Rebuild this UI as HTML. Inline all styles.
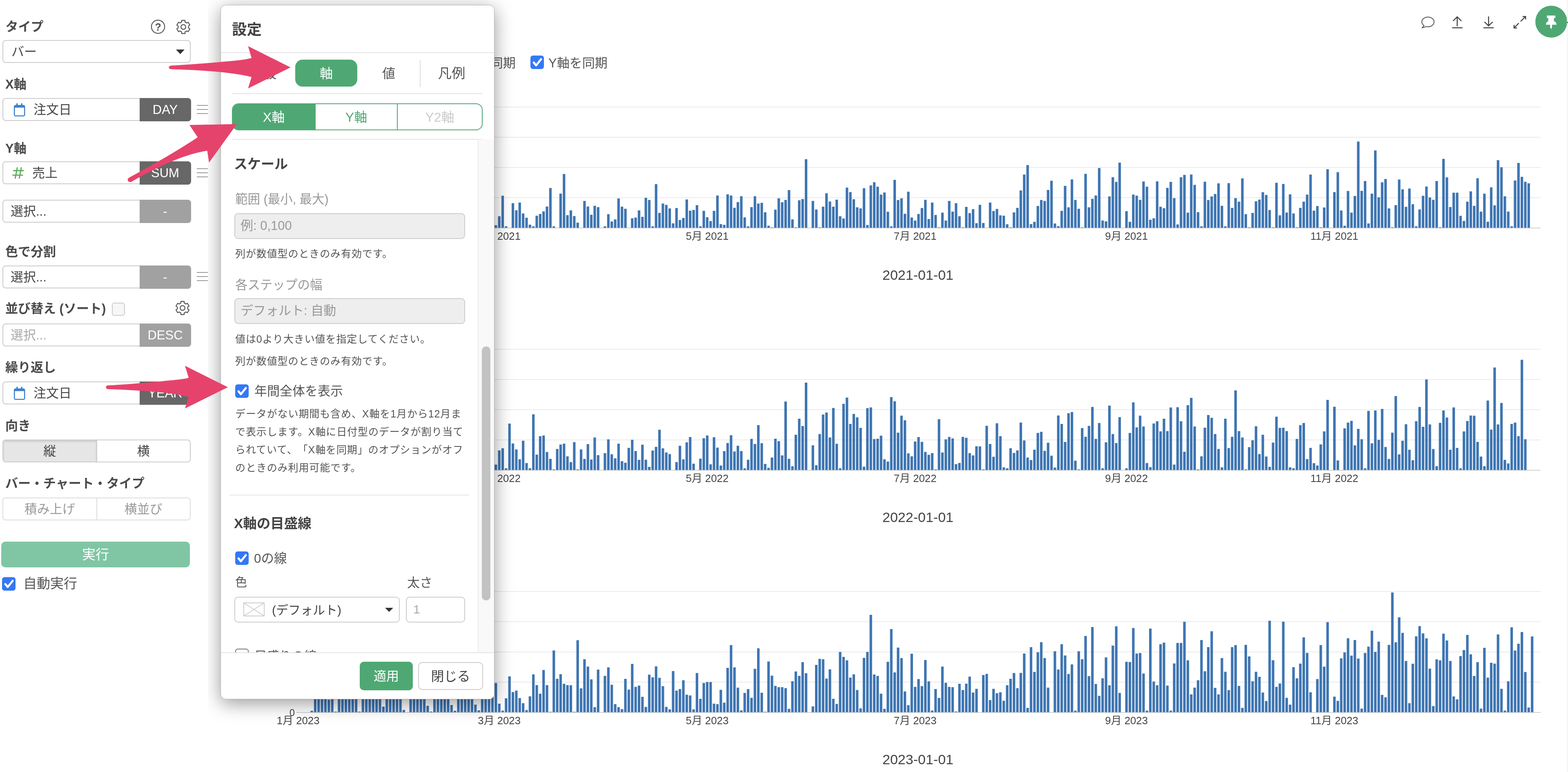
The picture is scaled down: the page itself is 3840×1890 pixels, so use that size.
<!DOCTYPE html>
<html lang="ja"><head><meta charset="utf-8">
<style>
*{box-sizing:border-box;margin:0;padding:0}
html,body{width:3840px;height:1890px;overflow:hidden;background:#fff}
body{text-spacing-trim:space-all;position:relative;font-family:"Liberation Sans","Noto Sans CJK JP",sans-serif;color:#555}
.a{position:absolute}
.charts{position:absolute;left:0;top:0}
.lbl{position:absolute;left:13px;font-weight:bold;font-size:31px;line-height:40px;color:#4a4a4a;white-space:nowrap}
.fld{position:absolute;left:6px;width:461px;height:56px;border:2.5px solid #ccc;border-radius:8px;background:#fff;font-size:31px;line-height:54px;color:#444;white-space:nowrap}
.fld .t{position:absolute;left:74px;top:0}
.fld .ph{position:absolute;left:18px;top:0}
.badge{position:absolute;right:-2.5px;top:-2.5px;bottom:-2.5px;width:126px;background:#676767;color:#fff;border-radius:0 8px 8px 0;text-align:center;line-height:57px;font-size:31px}
.badge.lt{background:#a1a1a1}
.ham{position:absolute;left:482px;width:27px;height:22px;border-top:2px solid #999;border-bottom:2px solid #999}
.ham:after{content:"";position:absolute;left:0;right:0;top:8px;height:2px;background:#999}
.seg{position:absolute;left:6px;width:461px;height:56px;border:2.5px solid #ccc;border-radius:8px;display:flex;font-size:31px;line-height:53px;overflow:hidden}
.seg div{flex:1;text-align:center}
.seg div+div{border-left:2.5px solid #ccc}
.cb{position:absolute;width:33px;height:33px;border-radius:6px;background:#3478f6}
.cb svg{position:absolute;left:0;top:0}
/* modal */
.clip{position:absolute;left:508.5px;top:0;width:3331.5px;height:1890px;overflow:hidden}
.modal{position:absolute;left:31.5px;top:12px;width:671px;height:1700px;background:#fff;border:1.5px solid #b0b0b0;border-radius:13px;box-shadow:0 10px 46px rgba(0,0,0,.4);overflow:hidden}
.mt{position:absolute;font-weight:bold;color:#444;white-space:nowrap}
.mline{position:absolute;height:2px;background:#e5e5e5}
.tab{position:absolute;top:133px;width:152px;height:66px;text-align:center;font-size:32px;line-height:68px;color:#555}
.tab.on{background:#4fa874;color:#fff;border-radius:18px}
.xseg{position:absolute;left:27px;top:240px;width:614px;height:66px;border:2.5px solid #4fa874;border-radius:16px;overflow:hidden;display:flex;font-size:32px;line-height:64px}
.xseg div{text-align:center}
.help{position:absolute;font-size:25px;letter-spacing:0.9px;color:#555;white-space:nowrap;line-height:44px}
.gl{position:absolute;font-size:30.5px;color:#999;white-space:nowrap}
.inp{position:absolute;border:2.5px solid #ccc;border-radius:9px;background:#eee;font-size:31px;color:#999;white-space:nowrap}
.btn{position:absolute;border-radius:10px;text-align:center;font-size:31px;white-space:nowrap}
</style></head><body>
<svg class="charts" width="3840" height="1890" viewBox="0 0 3840 1890">
<g fill="#3e75b2">
<rect x="726.0" y="483.0" width="3047.0" height="2" fill="#ebebeb"/>
<rect x="726.0" y="409.0" width="3047.0" height="2" fill="#ebebeb"/>
<rect x="726.0" y="335.0" width="3047.0" height="2" fill="#ebebeb"/>
<rect x="726.0" y="261.0" width="3047.0" height="2" fill="#ebebeb"/>
<rect x="752.12" y="556.1" width="6.2" height="1.9"/>
<rect x="760.47" y="514.1" width="6.2" height="43.9"/>
<rect x="768.81" y="529.7" width="6.2" height="28.3"/>
<rect x="777.16" y="531.3" width="6.2" height="26.7"/>
<rect x="785.51" y="537.8" width="6.2" height="20.2"/>
<rect x="793.86" y="518.9" width="6.2" height="39.1"/>
<rect x="802.21" y="494.8" width="6.2" height="63.2"/>
<rect x="810.55" y="557.0" width="6.2" height="1.0"/>
<rect x="818.90" y="488.8" width="6.2" height="69.2"/>
<rect x="827.25" y="516.0" width="6.2" height="42.0"/>
<rect x="835.60" y="518.2" width="6.2" height="39.8"/>
<rect x="843.95" y="477.5" width="6.2" height="80.5"/>
<rect x="852.29" y="504.5" width="6.2" height="53.5"/>
<rect x="860.64" y="517.7" width="6.2" height="40.3"/>
<rect x="868.99" y="555.6" width="6.2" height="2.4"/>
<rect x="877.34" y="486.6" width="6.2" height="71.4"/>
<rect x="885.68" y="538.4" width="6.2" height="19.6"/>
<rect x="894.03" y="465.0" width="6.2" height="93.0"/>
<rect x="902.38" y="541.2" width="6.2" height="16.8"/>
<rect x="910.73" y="483.0" width="6.2" height="75.0"/>
<rect x="919.08" y="475.4" width="6.2" height="82.6"/>
<rect x="927.42" y="556.9" width="6.2" height="1.1"/>
<rect x="935.77" y="480.0" width="6.2" height="78.0"/>
<rect x="944.12" y="513.7" width="6.2" height="44.3"/>
<rect x="952.47" y="496.7" width="6.2" height="61.3"/>
<rect x="960.82" y="542.3" width="6.2" height="15.7"/>
<rect x="969.16" y="539.3" width="6.2" height="18.7"/>
<rect x="977.51" y="528.5" width="6.2" height="29.5"/>
<rect x="985.86" y="554.1" width="6.2" height="3.9"/>
<rect x="994.21" y="527.3" width="6.2" height="30.7"/>
<rect x="1002.56" y="482.5" width="6.2" height="75.5"/>
<rect x="1010.90" y="468.6" width="6.2" height="89.4"/>
<rect x="1019.25" y="467.6" width="6.2" height="90.4"/>
<rect x="1027.60" y="515.4" width="6.2" height="42.6"/>
<rect x="1035.95" y="514.6" width="6.2" height="43.4"/>
<rect x="1044.30" y="555.4" width="6.2" height="2.6"/>
<rect x="1052.64" y="481.0" width="6.2" height="77.0"/>
<rect x="1060.99" y="534.4" width="6.2" height="23.6"/>
<rect x="1069.34" y="483.1" width="6.2" height="74.9"/>
<rect x="1077.69" y="479.2" width="6.2" height="78.8"/>
<rect x="1086.04" y="474.2" width="6.2" height="83.8"/>
<rect x="1094.38" y="540.1" width="6.2" height="17.9"/>
<rect x="1102.73" y="554.2" width="6.2" height="3.8"/>
<rect x="1111.08" y="535.7" width="6.2" height="22.3"/>
<rect x="1119.43" y="515.7" width="6.2" height="42.3"/>
<rect x="1127.78" y="494.1" width="6.2" height="63.9"/>
<rect x="1136.12" y="469.6" width="6.2" height="88.4"/>
<rect x="1144.47" y="515.8" width="6.2" height="42.2"/>
<rect x="1152.82" y="469.1" width="6.2" height="88.9"/>
<rect x="1161.17" y="555.4" width="6.2" height="2.6"/>
<rect x="1169.52" y="518.0" width="6.2" height="40.0"/>
<rect x="1177.86" y="517.7" width="6.2" height="40.3"/>
<rect x="1186.21" y="528.8" width="6.2" height="29.2"/>
<rect x="1194.56" y="536.7" width="6.2" height="21.3"/>
<rect x="1202.91" y="531.1" width="6.2" height="26.9"/>
<rect x="1211.25" y="551.4" width="6.2" height="6.6"/>
<rect x="1219.60" y="529.4" width="6.2" height="28.6"/>
<rect x="1227.95" y="479.1" width="6.2" height="78.9"/>
<rect x="1236.30" y="554.1" width="6.2" height="3.9"/>
<rect x="1252.99" y="497.4" width="6.2" height="60.6"/>
<rect x="1261.34" y="514.8" width="6.2" height="43.2"/>
<rect x="1269.69" y="495.9" width="6.2" height="62.1"/>
<rect x="1278.04" y="522.6" width="6.2" height="35.4"/>
<rect x="1286.39" y="533.1" width="6.2" height="24.9"/>
<rect x="1294.73" y="550.1" width="6.2" height="7.9"/>
<rect x="1303.08" y="554.1" width="6.2" height="3.9"/>
<rect x="1311.43" y="528.1" width="6.2" height="29.9"/>
<rect x="1319.78" y="523.9" width="6.2" height="34.1"/>
<rect x="1328.13" y="517.5" width="6.2" height="40.5"/>
<rect x="1336.47" y="505.6" width="6.2" height="52.4"/>
<rect x="1344.82" y="460.3" width="6.2" height="97.7"/>
<rect x="1353.17" y="554.1" width="6.2" height="3.9"/>
<rect x="1369.87" y="474.0" width="6.2" height="84.0"/>
<rect x="1378.21" y="426.0" width="6.2" height="132.0"/>
<rect x="1386.56" y="526.7" width="6.2" height="31.3"/>
<rect x="1394.91" y="515.1" width="6.2" height="42.9"/>
<rect x="1403.26" y="529.0" width="6.2" height="29.0"/>
<rect x="1411.61" y="545.1" width="6.2" height="12.9"/>
<rect x="1428.30" y="491.9" width="6.2" height="66.1"/>
<rect x="1436.65" y="505.6" width="6.2" height="52.4"/>
<rect x="1445.00" y="525.8" width="6.2" height="32.2"/>
<rect x="1453.35" y="503.8" width="6.2" height="54.2"/>
<rect x="1461.69" y="507.1" width="6.2" height="50.9"/>
<rect x="1478.39" y="554.1" width="6.2" height="3.9"/>
<rect x="1486.74" y="524.3" width="6.2" height="33.7"/>
<rect x="1495.08" y="542.2" width="6.2" height="15.8"/>
<rect x="1503.43" y="537.1" width="6.2" height="20.9"/>
<rect x="1511.78" y="485.9" width="6.2" height="72.1"/>
<rect x="1520.13" y="506.0" width="6.2" height="52.0"/>
<rect x="1528.48" y="511.1" width="6.2" height="46.9"/>
<rect x="1545.17" y="534.5" width="6.2" height="23.5"/>
<rect x="1553.52" y="532.7" width="6.2" height="25.3"/>
<rect x="1561.87" y="515.1" width="6.2" height="42.9"/>
<rect x="1570.22" y="530.9" width="6.2" height="27.1"/>
<rect x="1578.56" y="484.2" width="6.2" height="73.8"/>
<rect x="1586.91" y="489.5" width="6.2" height="68.5"/>
<rect x="1595.26" y="554.1" width="6.2" height="3.9"/>
<rect x="1603.61" y="450.7" width="6.2" height="107.3"/>
<rect x="1611.96" y="521.2" width="6.2" height="36.8"/>
<rect x="1620.30" y="498.3" width="6.2" height="59.7"/>
<rect x="1628.65" y="501.6" width="6.2" height="56.4"/>
<rect x="1637.00" y="510.2" width="6.2" height="47.8"/>
<rect x="1645.35" y="546.8" width="6.2" height="11.2"/>
<rect x="1653.70" y="509.3" width="6.2" height="48.7"/>
<rect x="1662.04" y="538.6" width="6.2" height="19.4"/>
<rect x="1670.39" y="533.6" width="6.2" height="24.4"/>
<rect x="1678.74" y="488.3" width="6.2" height="69.7"/>
<rect x="1687.09" y="515.7" width="6.2" height="42.3"/>
<rect x="1695.44" y="513.9" width="6.2" height="44.1"/>
<rect x="1703.78" y="502.3" width="6.2" height="55.7"/>
<rect x="1712.13" y="554.1" width="6.2" height="3.9"/>
<rect x="1720.48" y="516.2" width="6.2" height="41.8"/>
<rect x="1728.83" y="531.8" width="6.2" height="26.2"/>
<rect x="1737.18" y="541.3" width="6.2" height="16.7"/>
<rect x="1745.52" y="516.2" width="6.2" height="41.8"/>
<rect x="1753.87" y="478.6" width="6.2" height="79.4"/>
<rect x="1762.22" y="548.6" width="6.2" height="9.4"/>
<rect x="1770.57" y="550.5" width="6.2" height="7.5"/>
<rect x="1778.92" y="475.8" width="6.2" height="82.2"/>
<rect x="1787.26" y="478.6" width="6.2" height="79.4"/>
<rect x="1795.61" y="508.7" width="6.2" height="49.3"/>
<rect x="1803.96" y="494.7" width="6.2" height="63.3"/>
<rect x="1812.31" y="480.4" width="6.2" height="77.6"/>
<rect x="1820.65" y="532.2" width="6.2" height="25.8"/>
<rect x="1829.00" y="554.1" width="6.2" height="3.9"/>
<rect x="1837.35" y="507.1" width="6.2" height="50.9"/>
<rect x="1845.70" y="480.4" width="6.2" height="77.6"/>
<rect x="1854.05" y="498.3" width="6.2" height="59.7"/>
<rect x="1862.39" y="496.5" width="6.2" height="61.5"/>
<rect x="1870.74" y="519.7" width="6.2" height="38.3"/>
<rect x="1879.09" y="552.6" width="6.2" height="5.4"/>
<rect x="1887.44" y="556.5" width="6.2" height="1.5"/>
<rect x="1895.79" y="513.3" width="6.2" height="44.7"/>
<rect x="1904.13" y="485.5" width="6.2" height="72.5"/>
<rect x="1912.48" y="495.2" width="6.2" height="62.8"/>
<rect x="1920.83" y="489.5" width="6.2" height="68.5"/>
<rect x="1929.18" y="465.4" width="6.2" height="92.6"/>
<rect x="1937.53" y="537.1" width="6.2" height="20.9"/>
<rect x="1945.87" y="556.5" width="6.2" height="1.5"/>
<rect x="1954.22" y="490.4" width="6.2" height="67.6"/>
<rect x="1962.57" y="487.3" width="6.2" height="70.7"/>
<rect x="1970.92" y="389.8" width="6.2" height="168.2"/>
<rect x="1987.61" y="491.9" width="6.2" height="66.1"/>
<rect x="1995.96" y="512.9" width="6.2" height="45.1"/>
<rect x="2004.31" y="556.5" width="6.2" height="1.5"/>
<rect x="2012.66" y="506.0" width="6.2" height="52.0"/>
<rect x="2021.01" y="473.2" width="6.2" height="84.8"/>
<rect x="2029.35" y="493.4" width="6.2" height="64.6"/>
<rect x="2037.70" y="506.0" width="6.2" height="52.0"/>
<rect x="2046.05" y="488.8" width="6.2" height="69.2"/>
<rect x="2054.40" y="529.4" width="6.2" height="28.6"/>
<rect x="2062.75" y="534.9" width="6.2" height="23.1"/>
<rect x="2071.09" y="459.3" width="6.2" height="98.7"/>
<rect x="2079.44" y="470.3" width="6.2" height="87.7"/>
<rect x="2087.79" y="487.7" width="6.2" height="70.3"/>
<rect x="2096.14" y="507.5" width="6.2" height="50.5"/>
<rect x="2104.48" y="510.2" width="6.2" height="47.8"/>
<rect x="2112.83" y="460.8" width="6.2" height="97.2"/>
<rect x="2121.18" y="550.8" width="6.2" height="7.2"/>
<rect x="2129.53" y="453.9" width="6.2" height="104.1"/>
<rect x="2137.88" y="446.2" width="6.2" height="111.8"/>
<rect x="2146.22" y="457.1" width="6.2" height="100.9"/>
<rect x="2154.57" y="476.4" width="6.2" height="81.6"/>
<rect x="2162.92" y="471.2" width="6.2" height="86.8"/>
<rect x="2171.27" y="518.4" width="6.2" height="39.6"/>
<rect x="2179.62" y="554.1" width="6.2" height="3.9"/>
<rect x="2187.96" y="440.3" width="6.2" height="117.7"/>
<rect x="2196.31" y="489.7" width="6.2" height="68.3"/>
<rect x="2204.66" y="485.5" width="6.2" height="72.5"/>
<rect x="2213.01" y="523.4" width="6.2" height="34.6"/>
<rect x="2221.36" y="469.4" width="6.2" height="88.6"/>
<rect x="2229.70" y="532.5" width="6.2" height="25.5"/>
<rect x="2238.05" y="540.0" width="6.2" height="18.0"/>
<rect x="2246.40" y="523.9" width="6.2" height="34.1"/>
<rect x="2254.75" y="509.3" width="6.2" height="48.7"/>
<rect x="2263.10" y="489.2" width="6.2" height="68.8"/>
<rect x="2271.44" y="536.2" width="6.2" height="21.8"/>
<rect x="2279.79" y="495.9" width="6.2" height="62.1"/>
<rect x="2288.14" y="526.3" width="6.2" height="31.7"/>
<rect x="2296.49" y="556.5" width="6.2" height="1.5"/>
<rect x="2304.84" y="520.6" width="6.2" height="37.4"/>
<rect x="2313.18" y="540.0" width="6.2" height="18.0"/>
<rect x="2321.53" y="491.9" width="6.2" height="66.1"/>
<rect x="2329.88" y="518.1" width="6.2" height="39.9"/>
<rect x="2338.23" y="497.4" width="6.2" height="60.6"/>
<rect x="2346.58" y="529.4" width="6.2" height="28.6"/>
<rect x="2354.92" y="556.5" width="6.2" height="1.5"/>
<rect x="2363.27" y="506.5" width="6.2" height="51.5"/>
<rect x="2371.62" y="521.7" width="6.2" height="36.3"/>
<rect x="2379.97" y="512.0" width="6.2" height="46.0"/>
<rect x="2388.32" y="546.4" width="6.2" height="11.6"/>
<rect x="2396.66" y="501.4" width="6.2" height="56.6"/>
<rect x="2405.01" y="545.9" width="6.2" height="12.1"/>
<rect x="2421.71" y="495.9" width="6.2" height="62.1"/>
<rect x="2430.05" y="516.6" width="6.2" height="41.4"/>
<rect x="2438.40" y="511.5" width="6.2" height="46.5"/>
<rect x="2446.75" y="527.2" width="6.2" height="30.8"/>
<rect x="2455.10" y="528.0" width="6.2" height="30.0"/>
<rect x="2463.45" y="549.0" width="6.2" height="9.0"/>
<rect x="2471.79" y="556.5" width="6.2" height="1.5"/>
<rect x="2480.14" y="519.9" width="6.2" height="38.1"/>
<rect x="2488.49" y="508.9" width="6.2" height="49.1"/>
<rect x="2496.84" y="466.3" width="6.2" height="91.7"/>
<rect x="2505.19" y="427.3" width="6.2" height="130.7"/>
<rect x="2513.53" y="404.1" width="6.2" height="153.9"/>
<rect x="2521.88" y="548.6" width="6.2" height="9.4"/>
<rect x="2530.23" y="543.1" width="6.2" height="14.9"/>
<rect x="2538.58" y="504.2" width="6.2" height="53.8"/>
<rect x="2546.93" y="489.5" width="6.2" height="68.5"/>
<rect x="2555.27" y="491.9" width="6.2" height="66.1"/>
<rect x="2563.62" y="465.0" width="6.2" height="93.0"/>
<rect x="2571.97" y="442.5" width="6.2" height="115.5"/>
<rect x="2580.32" y="547.2" width="6.2" height="10.8"/>
<rect x="2588.67" y="553.7" width="6.2" height="4.3"/>
<rect x="2597.01" y="516.2" width="6.2" height="41.8"/>
<rect x="2605.36" y="455.0" width="6.2" height="103.0"/>
<rect x="2613.71" y="507.5" width="6.2" height="50.5"/>
<rect x="2622.06" y="439.2" width="6.2" height="118.8"/>
<rect x="2630.41" y="489.5" width="6.2" height="68.5"/>
<rect x="2638.75" y="511.1" width="6.2" height="46.9"/>
<rect x="2647.10" y="556.5" width="6.2" height="1.5"/>
<rect x="2655.45" y="425.5" width="6.2" height="132.5"/>
<rect x="2663.80" y="507.5" width="6.2" height="50.5"/>
<rect x="2672.15" y="486.8" width="6.2" height="71.2"/>
<rect x="2680.49" y="478.6" width="6.2" height="79.4"/>
<rect x="2688.84" y="411.4" width="6.2" height="146.6"/>
<rect x="2697.19" y="539.8" width="6.2" height="18.2"/>
<rect x="2705.54" y="541.9" width="6.2" height="16.1"/>
<rect x="2713.88" y="480.9" width="6.2" height="77.1"/>
<rect x="2722.23" y="433.9" width="6.2" height="124.1"/>
<rect x="2730.58" y="445.3" width="6.2" height="112.7"/>
<rect x="2738.93" y="398.2" width="6.2" height="159.8"/>
<rect x="2755.62" y="517.0" width="6.2" height="41.0"/>
<rect x="2763.97" y="543.1" width="6.2" height="14.9"/>
<rect x="2772.32" y="476.4" width="6.2" height="81.6"/>
<rect x="2780.67" y="479.1" width="6.2" height="78.9"/>
<rect x="2789.02" y="489.2" width="6.2" height="68.8"/>
<rect x="2797.36" y="444.3" width="6.2" height="113.7"/>
<rect x="2805.71" y="457.1" width="6.2" height="100.9"/>
<rect x="2814.06" y="538.0" width="6.2" height="20.0"/>
<rect x="2822.41" y="534.4" width="6.2" height="23.6"/>
<rect x="2830.76" y="444.0" width="6.2" height="114.0"/>
<rect x="2839.10" y="506.2" width="6.2" height="51.8"/>
<rect x="2847.45" y="509.7" width="6.2" height="48.3"/>
<rect x="2855.80" y="459.9" width="6.2" height="98.1"/>
<rect x="2864.15" y="445.3" width="6.2" height="112.7"/>
<rect x="2872.50" y="485.1" width="6.2" height="72.9"/>
<rect x="2880.84" y="549.5" width="6.2" height="8.5"/>
<rect x="2889.19" y="433.9" width="6.2" height="124.1"/>
<rect x="2897.54" y="428.2" width="6.2" height="129.8"/>
<rect x="2905.89" y="520.6" width="6.2" height="37.4"/>
<rect x="2914.24" y="427.3" width="6.2" height="130.7"/>
<rect x="2922.58" y="452.6" width="6.2" height="105.4"/>
<rect x="2930.93" y="519.4" width="6.2" height="38.6"/>
<rect x="2939.28" y="554.1" width="6.2" height="3.9"/>
<rect x="2947.63" y="444.9" width="6.2" height="113.1"/>
<rect x="2955.98" y="489.7" width="6.2" height="68.3"/>
<rect x="2964.32" y="480.9" width="6.2" height="77.1"/>
<rect x="2972.67" y="474.9" width="6.2" height="83.1"/>
<rect x="2981.02" y="448.9" width="6.2" height="109.1"/>
<rect x="2989.37" y="503.8" width="6.2" height="54.2"/>
<rect x="2997.72" y="554.1" width="6.2" height="3.9"/>
<rect x="3006.06" y="448.4" width="6.2" height="109.6"/>
<rect x="3014.41" y="508.9" width="6.2" height="49.1"/>
<rect x="3022.76" y="485.1" width="6.2" height="72.9"/>
<rect x="3031.11" y="493.7" width="6.2" height="64.3"/>
<rect x="3039.45" y="436.7" width="6.2" height="121.3"/>
<rect x="3047.80" y="524.3" width="6.2" height="33.7"/>
<rect x="3056.15" y="556.5" width="6.2" height="1.5"/>
<rect x="3064.50" y="521.2" width="6.2" height="36.8"/>
<rect x="3072.85" y="492.8" width="6.2" height="65.2"/>
<rect x="3081.19" y="488.6" width="6.2" height="69.4"/>
<rect x="3089.54" y="470.5" width="6.2" height="87.5"/>
<rect x="3097.89" y="477.3" width="6.2" height="80.7"/>
<rect x="3106.24" y="514.2" width="6.2" height="43.8"/>
<rect x="3114.59" y="556.5" width="6.2" height="1.5"/>
<rect x="3122.93" y="447.5" width="6.2" height="110.5"/>
<rect x="3131.28" y="527.2" width="6.2" height="30.8"/>
<rect x="3139.63" y="450.4" width="6.2" height="107.6"/>
<rect x="3147.98" y="520.3" width="6.2" height="37.7"/>
<rect x="3156.33" y="475.8" width="6.2" height="82.2"/>
<rect x="3164.67" y="522.6" width="6.2" height="35.4"/>
<rect x="3173.02" y="556.5" width="6.2" height="1.5"/>
<rect x="3181.37" y="508.9" width="6.2" height="49.1"/>
<rect x="3189.72" y="493.7" width="6.2" height="64.3"/>
<rect x="3198.07" y="476.4" width="6.2" height="81.6"/>
<rect x="3206.41" y="427.3" width="6.2" height="130.7"/>
<rect x="3214.76" y="515.7" width="6.2" height="42.3"/>
<rect x="3223.11" y="504.4" width="6.2" height="53.6"/>
<rect x="3231.46" y="556.5" width="6.2" height="1.5"/>
<rect x="3239.81" y="508.0" width="6.2" height="50.0"/>
<rect x="3248.15" y="414.2" width="6.2" height="143.8"/>
<rect x="3264.85" y="470.3" width="6.2" height="87.7"/>
<rect x="3273.20" y="421.5" width="6.2" height="136.5"/>
<rect x="3281.55" y="515.3" width="6.2" height="42.7"/>
<rect x="3289.89" y="552.6" width="6.2" height="5.4"/>
<rect x="3298.24" y="467.5" width="6.2" height="90.5"/>
<rect x="3306.59" y="520.5" width="6.2" height="37.5"/>
<rect x="3314.94" y="479.7" width="6.2" height="78.3"/>
<rect x="3323.28" y="346.5" width="6.2" height="211.5"/>
<rect x="3331.63" y="467.2" width="6.2" height="90.8"/>
<rect x="3339.98" y="443.2" width="6.2" height="114.8"/>
<rect x="3348.33" y="547.1" width="6.2" height="10.9"/>
<rect x="3356.68" y="474.1" width="6.2" height="83.9"/>
<rect x="3365.02" y="368.4" width="6.2" height="189.6"/>
<rect x="3373.37" y="483.1" width="6.2" height="74.9"/>
<rect x="3381.72" y="446.4" width="6.2" height="111.6"/>
<rect x="3390.07" y="438.2" width="6.2" height="119.8"/>
<rect x="3398.42" y="510.2" width="6.2" height="47.8"/>
<rect x="3406.76" y="556.4" width="6.2" height="1.6"/>
<rect x="3415.11" y="502.2" width="6.2" height="55.8"/>
<rect x="3423.46" y="439.5" width="6.2" height="118.5"/>
<rect x="3431.81" y="463.4" width="6.2" height="94.6"/>
<rect x="3440.16" y="506.3" width="6.2" height="51.7"/>
<rect x="3448.50" y="461.5" width="6.2" height="96.5"/>
<rect x="3456.85" y="499.9" width="6.2" height="58.1"/>
<rect x="3465.20" y="554.0" width="6.2" height="4.0"/>
<rect x="3473.55" y="512.8" width="6.2" height="45.2"/>
<rect x="3481.90" y="479.3" width="6.2" height="78.7"/>
<rect x="3490.24" y="456.7" width="6.2" height="101.3"/>
<rect x="3498.59" y="483.4" width="6.2" height="74.6"/>
<rect x="3506.94" y="489.1" width="6.2" height="68.9"/>
<rect x="3515.29" y="443.2" width="6.2" height="114.8"/>
<rect x="3523.64" y="556.4" width="6.2" height="1.6"/>
<rect x="3531.98" y="388.9" width="6.2" height="169.1"/>
<rect x="3540.33" y="434.2" width="6.2" height="123.8"/>
<rect x="3548.68" y="506.8" width="6.2" height="51.2"/>
<rect x="3557.03" y="471.7" width="6.2" height="86.3"/>
<rect x="3565.38" y="471.7" width="6.2" height="86.3"/>
<rect x="3573.72" y="528.4" width="6.2" height="29.6"/>
<rect x="3582.07" y="540.9" width="6.2" height="17.1"/>
<rect x="3590.42" y="493.7" width="6.2" height="64.3"/>
<rect x="3598.77" y="468.5" width="6.2" height="89.5"/>
<rect x="3607.12" y="504.0" width="6.2" height="54.0"/>
<rect x="3615.46" y="436.3" width="6.2" height="121.7"/>
<rect x="3623.81" y="518.1" width="6.2" height="39.9"/>
<rect x="3632.16" y="474.1" width="6.2" height="83.9"/>
<rect x="3640.51" y="542.8" width="6.2" height="15.2"/>
<rect x="3648.85" y="458.7" width="6.2" height="99.3"/>
<rect x="3657.20" y="502.7" width="6.2" height="55.3"/>
<rect x="3665.55" y="392.1" width="6.2" height="165.9"/>
<rect x="3673.90" y="409.5" width="6.2" height="148.5"/>
<rect x="3682.25" y="480.6" width="6.2" height="77.4"/>
<rect x="3690.59" y="518.1" width="6.2" height="39.9"/>
<rect x="3698.94" y="554.0" width="6.2" height="4.0"/>
<rect x="3707.29" y="441.9" width="6.2" height="116.1"/>
<rect x="3715.64" y="398.9" width="6.2" height="159.1"/>
<rect x="3723.99" y="432.9" width="6.2" height="125.1"/>
<rect x="3732.33" y="445.1" width="6.2" height="112.9"/>
<rect x="3740.68" y="448.8" width="6.2" height="109.2"/>
<rect x="726.0" y="557.5" width="3047.0" height="1.5" fill="#c4c4c4"/>
<rect x="726.0" y="1076.0" width="3047.0" height="2" fill="#ebebeb"/>
<rect x="726.0" y="1002.0" width="3047.0" height="2" fill="#ebebeb"/>
<rect x="726.0" y="928.0" width="3047.0" height="2" fill="#ebebeb"/>
<rect x="726.0" y="854.0" width="3047.0" height="2" fill="#ebebeb"/>
<rect x="752.12" y="1147.9" width="6.2" height="3.1"/>
<rect x="760.47" y="1056.3" width="6.2" height="94.7"/>
<rect x="768.81" y="1123.1" width="6.2" height="27.9"/>
<rect x="777.16" y="1132.1" width="6.2" height="18.9"/>
<rect x="785.51" y="1057.1" width="6.2" height="93.9"/>
<rect x="793.86" y="1093.3" width="6.2" height="57.7"/>
<rect x="802.21" y="1103.5" width="6.2" height="47.5"/>
<rect x="810.55" y="1149.3" width="6.2" height="1.7"/>
<rect x="818.90" y="1088.5" width="6.2" height="62.5"/>
<rect x="827.25" y="1069.9" width="6.2" height="81.1"/>
<rect x="835.60" y="1099.5" width="6.2" height="51.5"/>
<rect x="843.95" y="1102.3" width="6.2" height="48.7"/>
<rect x="852.29" y="1131.5" width="6.2" height="19.5"/>
<rect x="860.64" y="1062.7" width="6.2" height="88.3"/>
<rect x="868.99" y="1149.9" width="6.2" height="1.1"/>
<rect x="877.34" y="1096.5" width="6.2" height="54.5"/>
<rect x="885.68" y="1068.9" width="6.2" height="82.1"/>
<rect x="894.03" y="1125.6" width="6.2" height="25.4"/>
<rect x="902.38" y="1077.5" width="6.2" height="73.5"/>
<rect x="910.73" y="1060.0" width="6.2" height="91.0"/>
<rect x="919.08" y="1085.6" width="6.2" height="65.4"/>
<rect x="927.42" y="1147.6" width="6.2" height="3.4"/>
<rect x="935.77" y="1127.5" width="6.2" height="23.5"/>
<rect x="944.12" y="1101.2" width="6.2" height="49.8"/>
<rect x="952.47" y="1124.1" width="6.2" height="26.9"/>
<rect x="960.82" y="1068.4" width="6.2" height="82.6"/>
<rect x="969.16" y="1112.4" width="6.2" height="38.6"/>
<rect x="977.51" y="1099.7" width="6.2" height="51.3"/>
<rect x="985.86" y="1147.0" width="6.2" height="4.0"/>
<rect x="994.21" y="1067.8" width="6.2" height="83.2"/>
<rect x="1002.56" y="1057.9" width="6.2" height="93.1"/>
<rect x="1010.90" y="1099.7" width="6.2" height="51.3"/>
<rect x="1019.25" y="1096.9" width="6.2" height="54.1"/>
<rect x="1027.60" y="1077.6" width="6.2" height="73.4"/>
<rect x="1035.95" y="1097.7" width="6.2" height="53.3"/>
<rect x="1044.30" y="1149.1" width="6.2" height="1.9"/>
<rect x="1052.64" y="1103.7" width="6.2" height="47.3"/>
<rect x="1060.99" y="1124.3" width="6.2" height="26.7"/>
<rect x="1069.34" y="1105.8" width="6.2" height="45.2"/>
<rect x="1077.69" y="1056.9" width="6.2" height="94.1"/>
<rect x="1086.04" y="1059.2" width="6.2" height="91.8"/>
<rect x="1094.38" y="1085.8" width="6.2" height="65.2"/>
<rect x="1102.73" y="1148.5" width="6.2" height="2.5"/>
<rect x="1111.08" y="1108.9" width="6.2" height="42.1"/>
<rect x="1119.43" y="1128.9" width="6.2" height="22.1"/>
<rect x="1127.78" y="1114.2" width="6.2" height="36.8"/>
<rect x="1136.12" y="1073.4" width="6.2" height="77.6"/>
<rect x="1144.47" y="1066.6" width="6.2" height="84.4"/>
<rect x="1152.82" y="1107.1" width="6.2" height="43.9"/>
<rect x="1161.17" y="1147.6" width="6.2" height="3.4"/>
<rect x="1169.52" y="1074.0" width="6.2" height="77.0"/>
<rect x="1177.86" y="1080.4" width="6.2" height="70.6"/>
<rect x="1186.21" y="1082.9" width="6.2" height="68.1"/>
<rect x="1194.56" y="1075.2" width="6.2" height="75.8"/>
<rect x="1202.91" y="1106.9" width="6.2" height="44.1"/>
<rect x="1211.25" y="1137.4" width="6.2" height="13.6"/>
<rect x="1219.60" y="1102.6" width="6.2" height="48.4"/>
<rect x="1227.95" y="1097.4" width="6.2" height="53.6"/>
<rect x="1236.30" y="1146.4" width="6.2" height="4.6"/>
<rect x="1244.65" y="1037.0" width="6.2" height="114.0"/>
<rect x="1252.99" y="1085.7" width="6.2" height="65.3"/>
<rect x="1261.34" y="1100.3" width="6.2" height="50.7"/>
<rect x="1269.69" y="1124.4" width="6.2" height="26.6"/>
<rect x="1278.04" y="1079.0" width="6.2" height="72.0"/>
<rect x="1286.39" y="1133.6" width="6.2" height="17.4"/>
<rect x="1294.73" y="1146.4" width="6.2" height="4.6"/>
<rect x="1303.08" y="1014.3" width="6.2" height="136.7"/>
<rect x="1311.43" y="1113.1" width="6.2" height="37.9"/>
<rect x="1319.78" y="1067.8" width="6.2" height="83.2"/>
<rect x="1328.13" y="1066.2" width="6.2" height="84.8"/>
<rect x="1336.47" y="1106.6" width="6.2" height="44.4"/>
<rect x="1344.82" y="1123.3" width="6.2" height="27.7"/>
<rect x="1353.17" y="1149.1" width="6.2" height="1.9"/>
<rect x="1361.52" y="1099.2" width="6.2" height="51.8"/>
<rect x="1369.87" y="1088.4" width="6.2" height="62.6"/>
<rect x="1378.21" y="1086.2" width="6.2" height="64.8"/>
<rect x="1386.56" y="1117.2" width="6.2" height="33.8"/>
<rect x="1394.91" y="1131.3" width="6.2" height="19.7"/>
<rect x="1403.26" y="1082.4" width="6.2" height="68.6"/>
<rect x="1411.61" y="1149.1" width="6.2" height="1.9"/>
<rect x="1419.95" y="1100.3" width="6.2" height="50.7"/>
<rect x="1428.30" y="1123.5" width="6.2" height="27.5"/>
<rect x="1436.65" y="1087.3" width="6.2" height="63.7"/>
<rect x="1445.00" y="1125.1" width="6.2" height="25.9"/>
<rect x="1453.35" y="1071.1" width="6.2" height="79.9"/>
<rect x="1461.69" y="1114.3" width="6.2" height="36.7"/>
<rect x="1478.39" y="1109.3" width="6.2" height="41.7"/>
<rect x="1486.74" y="1075.6" width="6.2" height="75.4"/>
<rect x="1495.08" y="1112.2" width="6.2" height="38.8"/>
<rect x="1503.43" y="1122.1" width="6.2" height="28.9"/>
<rect x="1511.78" y="1086.2" width="6.2" height="64.8"/>
<rect x="1520.13" y="1129.1" width="6.2" height="21.9"/>
<rect x="1528.48" y="1132.9" width="6.2" height="18.1"/>
<rect x="1536.82" y="1096.5" width="6.2" height="54.5"/>
<rect x="1545.17" y="1076.7" width="6.2" height="74.3"/>
<rect x="1553.52" y="1104.2" width="6.2" height="46.8"/>
<rect x="1561.87" y="1125.7" width="6.2" height="25.3"/>
<rect x="1570.22" y="1088.7" width="6.2" height="62.3"/>
<rect x="1578.56" y="1125.5" width="6.2" height="25.5"/>
<rect x="1586.91" y="1143.0" width="6.2" height="8.0"/>
<rect x="1595.26" y="1103.0" width="6.2" height="48.0"/>
<rect x="1603.61" y="1094.0" width="6.2" height="57.0"/>
<rect x="1611.96" y="1052.0" width="6.2" height="99.0"/>
<rect x="1620.30" y="1097.6" width="6.2" height="53.4"/>
<rect x="1628.65" y="1107.8" width="6.2" height="43.2"/>
<rect x="1637.00" y="1111.6" width="6.2" height="39.4"/>
<rect x="1653.70" y="1131.3" width="6.2" height="19.7"/>
<rect x="1662.04" y="1091.3" width="6.2" height="59.7"/>
<rect x="1670.39" y="1124.6" width="6.2" height="26.4"/>
<rect x="1678.74" y="1083.0" width="6.2" height="68.0"/>
<rect x="1687.09" y="1070.0" width="6.2" height="81.0"/>
<rect x="1695.44" y="1135.2" width="6.2" height="15.8"/>
<rect x="1712.13" y="1122.8" width="6.2" height="28.2"/>
<rect x="1720.48" y="1072.9" width="6.2" height="78.1"/>
<rect x="1728.83" y="1066.2" width="6.2" height="84.8"/>
<rect x="1737.18" y="1136.7" width="6.2" height="14.3"/>
<rect x="1745.52" y="1070.4" width="6.2" height="80.6"/>
<rect x="1753.87" y="1095.8" width="6.2" height="55.2"/>
<rect x="1762.22" y="1139.7" width="6.2" height="11.3"/>
<rect x="1770.57" y="1104.4" width="6.2" height="46.6"/>
<rect x="1778.92" y="1084.6" width="6.2" height="66.4"/>
<rect x="1787.26" y="1065.5" width="6.2" height="85.5"/>
<rect x="1795.61" y="1105.3" width="6.2" height="45.7"/>
<rect x="1803.96" y="1091.3" width="6.2" height="59.7"/>
<rect x="1812.31" y="1104.2" width="6.2" height="46.8"/>
<rect x="1820.65" y="1146.4" width="6.2" height="4.6"/>
<rect x="1829.00" y="1125.5" width="6.2" height="25.5"/>
<rect x="1837.35" y="1074.5" width="6.2" height="76.5"/>
<rect x="1845.70" y="1086.9" width="6.2" height="64.1"/>
<rect x="1854.05" y="1040.8" width="6.2" height="110.2"/>
<rect x="1862.39" y="1085.1" width="6.2" height="65.9"/>
<rect x="1870.74" y="1135.8" width="6.2" height="15.2"/>
<rect x="1879.09" y="1145.3" width="6.2" height="5.7"/>
<rect x="1887.44" y="1120.1" width="6.2" height="30.9"/>
<rect x="1895.79" y="1074.0" width="6.2" height="77.0"/>
<rect x="1904.13" y="1080.1" width="6.2" height="70.9"/>
<rect x="1912.48" y="1114.9" width="6.2" height="36.1"/>
<rect x="1920.83" y="983.0" width="6.2" height="168.0"/>
<rect x="1929.18" y="1123.3" width="6.2" height="27.7"/>
<rect x="1937.53" y="1141.5" width="6.2" height="9.5"/>
<rect x="1945.87" y="1064.4" width="6.2" height="86.6"/>
<rect x="1954.22" y="1025.1" width="6.2" height="125.9"/>
<rect x="1962.57" y="1043.0" width="6.2" height="108.0"/>
<rect x="1970.92" y="936.7" width="6.2" height="214.3"/>
<rect x="1987.61" y="1090.2" width="6.2" height="60.8"/>
<rect x="1995.96" y="1139.0" width="6.2" height="12.0"/>
<rect x="2004.31" y="1062.6" width="6.2" height="88.4"/>
<rect x="2012.66" y="1014.9" width="6.2" height="136.1"/>
<rect x="2021.01" y="1010.0" width="6.2" height="141.0"/>
<rect x="2029.35" y="1071.1" width="6.2" height="79.9"/>
<rect x="2037.70" y="998.8" width="6.2" height="152.2"/>
<rect x="2046.05" y="1086.4" width="6.2" height="64.6"/>
<rect x="2054.40" y="1146.4" width="6.2" height="4.6"/>
<rect x="2062.75" y="988.7" width="6.2" height="162.3"/>
<rect x="2071.09" y="973.4" width="6.2" height="177.6"/>
<rect x="2079.44" y="1037.9" width="6.2" height="113.1"/>
<rect x="2087.79" y="1013.4" width="6.2" height="137.6"/>
<rect x="2096.14" y="1021.7" width="6.2" height="129.3"/>
<rect x="2104.48" y="1047.5" width="6.2" height="103.5"/>
<rect x="2112.83" y="1142.6" width="6.2" height="8.4"/>
<rect x="2121.18" y="999.2" width="6.2" height="151.8"/>
<rect x="2129.53" y="997.4" width="6.2" height="153.6"/>
<rect x="2137.88" y="1074.9" width="6.2" height="76.1"/>
<rect x="2146.22" y="1074.0" width="6.2" height="77.0"/>
<rect x="2154.57" y="1066.6" width="6.2" height="84.4"/>
<rect x="2162.92" y="1124.4" width="6.2" height="26.6"/>
<rect x="2171.27" y="1130.0" width="6.2" height="21.0"/>
<rect x="2179.62" y="972.2" width="6.2" height="178.8"/>
<rect x="2187.96" y="982.4" width="6.2" height="168.6"/>
<rect x="2196.31" y="1059.2" width="6.2" height="91.8"/>
<rect x="2204.66" y="1017.6" width="6.2" height="133.4"/>
<rect x="2213.01" y="1028.9" width="6.2" height="122.1"/>
<rect x="2221.36" y="1109.8" width="6.2" height="41.2"/>
<rect x="2229.70" y="1117.2" width="6.2" height="33.8"/>
<rect x="2238.05" y="1080.8" width="6.2" height="70.2"/>
<rect x="2246.40" y="1070.0" width="6.2" height="81.0"/>
<rect x="2254.75" y="1081.7" width="6.2" height="69.3"/>
<rect x="2263.10" y="1106.4" width="6.2" height="44.6"/>
<rect x="2271.44" y="1113.4" width="6.2" height="37.6"/>
<rect x="2279.79" y="1109.3" width="6.2" height="41.7"/>
<rect x="2288.14" y="1149.1" width="6.2" height="1.9"/>
<rect x="2296.49" y="1026.2" width="6.2" height="124.8"/>
<rect x="2304.84" y="1107.8" width="6.2" height="43.2"/>
<rect x="2313.18" y="1075.6" width="6.2" height="75.4"/>
<rect x="2321.53" y="1069.6" width="6.2" height="81.4"/>
<rect x="2329.88" y="1073.4" width="6.2" height="77.6"/>
<rect x="2338.23" y="1136.3" width="6.2" height="14.7"/>
<rect x="2346.58" y="1133.4" width="6.2" height="17.6"/>
<rect x="2354.92" y="1069.6" width="6.2" height="81.4"/>
<rect x="2363.27" y="1071.8" width="6.2" height="79.2"/>
<rect x="2371.62" y="1109.3" width="6.2" height="41.7"/>
<rect x="2379.97" y="1114.9" width="6.2" height="36.1"/>
<rect x="2388.32" y="1092.5" width="6.2" height="58.5"/>
<rect x="2396.66" y="1092.9" width="6.2" height="58.1"/>
<rect x="2405.01" y="1149.1" width="6.2" height="1.9"/>
<rect x="2413.36" y="1042.4" width="6.2" height="108.6"/>
<rect x="2421.71" y="1086.9" width="6.2" height="64.1"/>
<rect x="2430.05" y="1118.3" width="6.2" height="32.7"/>
<rect x="2438.40" y="1036.3" width="6.2" height="114.7"/>
<rect x="2446.75" y="1067.8" width="6.2" height="83.2"/>
<rect x="2455.10" y="1144.2" width="6.2" height="6.8"/>
<rect x="2463.45" y="1146.4" width="6.2" height="4.6"/>
<rect x="2471.79" y="1097.4" width="6.2" height="53.6"/>
<rect x="2480.14" y="1108.9" width="6.2" height="42.1"/>
<rect x="2488.49" y="1102.6" width="6.2" height="48.4"/>
<rect x="2496.84" y="1034.5" width="6.2" height="116.5"/>
<rect x="2505.19" y="1078.3" width="6.2" height="72.7"/>
<rect x="2513.53" y="1120.1" width="6.2" height="30.9"/>
<rect x="2521.88" y="1126.2" width="6.2" height="24.8"/>
<rect x="2530.23" y="1101.0" width="6.2" height="50.0"/>
<rect x="2538.58" y="1059.9" width="6.2" height="91.1"/>
<rect x="2546.93" y="1057.2" width="6.2" height="93.8"/>
<rect x="2555.27" y="1103.7" width="6.2" height="47.3"/>
<rect x="2563.62" y="1083.9" width="6.2" height="67.1"/>
<rect x="2571.97" y="1115.6" width="6.2" height="35.4"/>
<rect x="2580.32" y="1144.6" width="6.2" height="6.4"/>
<rect x="2588.67" y="1017.2" width="6.2" height="133.8"/>
<rect x="2597.01" y="1037.9" width="6.2" height="113.1"/>
<rect x="2605.36" y="1081.9" width="6.2" height="69.1"/>
<rect x="2613.71" y="1011.6" width="6.2" height="139.4"/>
<rect x="2622.06" y="1008.7" width="6.2" height="142.3"/>
<rect x="2630.41" y="1127.8" width="6.2" height="23.2"/>
<rect x="2638.75" y="1149.1" width="6.2" height="1.9"/>
<rect x="2647.10" y="1048.0" width="6.2" height="103.0"/>
<rect x="2655.45" y="1069.3" width="6.2" height="81.7"/>
<rect x="2663.80" y="1042.6" width="6.2" height="108.4"/>
<rect x="2672.15" y="996.3" width="6.2" height="154.7"/>
<rect x="2680.49" y="1074.5" width="6.2" height="76.5"/>
<rect x="2688.84" y="1035.6" width="6.2" height="115.4"/>
<rect x="2697.19" y="1146.4" width="6.2" height="4.6"/>
<rect x="2705.54" y="1082.8" width="6.2" height="68.2"/>
<rect x="2713.88" y="993.1" width="6.2" height="157.9"/>
<rect x="2722.23" y="1062.6" width="6.2" height="88.4"/>
<rect x="2730.58" y="1084.6" width="6.2" height="66.4"/>
<rect x="2738.93" y="1021.2" width="6.2" height="129.8"/>
<rect x="2755.62" y="1146.4" width="6.2" height="4.6"/>
<rect x="2763.97" y="1059.9" width="6.2" height="91.1"/>
<rect x="2772.32" y="985.1" width="6.2" height="165.9"/>
<rect x="2780.67" y="1046.4" width="6.2" height="104.6"/>
<rect x="2789.02" y="1017.6" width="6.2" height="133.4"/>
<rect x="2797.36" y="1044.2" width="6.2" height="106.8"/>
<rect x="2805.71" y="1133.6" width="6.2" height="17.4"/>
<rect x="2814.06" y="1143.7" width="6.2" height="7.3"/>
<rect x="2822.41" y="1036.7" width="6.2" height="114.3"/>
<rect x="2830.76" y="1031.3" width="6.2" height="119.7"/>
<rect x="2839.10" y="1056.1" width="6.2" height="94.9"/>
<rect x="2847.45" y="1025.1" width="6.2" height="125.9"/>
<rect x="2855.80" y="1055.4" width="6.2" height="95.6"/>
<rect x="2864.15" y="997.6" width="6.2" height="153.4"/>
<rect x="2872.50" y="1137.4" width="6.2" height="13.6"/>
<rect x="2880.84" y="997.0" width="6.2" height="154.0"/>
<rect x="2889.19" y="1031.3" width="6.2" height="119.7"/>
<rect x="2897.54" y="1106.0" width="6.2" height="45.0"/>
<rect x="2905.89" y="992.0" width="6.2" height="159.0"/>
<rect x="2914.24" y="974.0" width="6.2" height="177.0"/>
<rect x="2922.58" y="1044.2" width="6.2" height="106.8"/>
<rect x="2930.93" y="1149.1" width="6.2" height="1.9"/>
<rect x="2939.28" y="1117.2" width="6.2" height="33.8"/>
<rect x="2947.63" y="1047.1" width="6.2" height="103.9"/>
<rect x="2955.98" y="1016.1" width="6.2" height="134.9"/>
<rect x="2964.32" y="1022.8" width="6.2" height="128.2"/>
<rect x="2972.67" y="1062.6" width="6.2" height="88.4"/>
<rect x="2981.02" y="1099.2" width="6.2" height="51.8"/>
<rect x="2989.37" y="1144.2" width="6.2" height="6.8"/>
<rect x="2997.72" y="1025.1" width="6.2" height="125.9"/>
<rect x="3006.06" y="1097.0" width="6.2" height="54.0"/>
<rect x="3014.41" y="1069.3" width="6.2" height="81.7"/>
<rect x="3022.76" y="955.8" width="6.2" height="195.2"/>
<rect x="3031.11" y="1055.4" width="6.2" height="95.6"/>
<rect x="3039.45" y="1071.1" width="6.2" height="79.9"/>
<rect x="3047.80" y="1149.1" width="6.2" height="1.9"/>
<rect x="3056.15" y="1094.7" width="6.2" height="56.3"/>
<rect x="3064.50" y="1077.9" width="6.2" height="73.1"/>
<rect x="3072.85" y="1043.5" width="6.2" height="107.5"/>
<rect x="3081.19" y="1111.6" width="6.2" height="39.4"/>
<rect x="3089.54" y="1064.4" width="6.2" height="86.6"/>
<rect x="3097.89" y="1117.6" width="6.2" height="33.4"/>
<rect x="3106.24" y="1143.0" width="6.2" height="8.0"/>
<rect x="3114.59" y="1083.5" width="6.2" height="67.5"/>
<rect x="3122.93" y="1020.1" width="6.2" height="130.9"/>
<rect x="3131.28" y="1047.5" width="6.2" height="103.5"/>
<rect x="3139.63" y="1047.1" width="6.2" height="103.9"/>
<rect x="3147.98" y="1055.4" width="6.2" height="95.6"/>
<rect x="3156.33" y="1144.2" width="6.2" height="6.8"/>
<rect x="3164.67" y="1146.4" width="6.2" height="4.6"/>
<rect x="3173.02" y="1074.5" width="6.2" height="76.5"/>
<rect x="3181.37" y="1040.8" width="6.2" height="110.2"/>
<rect x="3189.72" y="1035.6" width="6.2" height="115.4"/>
<rect x="3198.07" y="1123.9" width="6.2" height="27.1"/>
<rect x="3206.41" y="1096.5" width="6.2" height="54.5"/>
<rect x="3214.76" y="1134.0" width="6.2" height="17.0"/>
<rect x="3223.11" y="1139.7" width="6.2" height="11.3"/>
<rect x="3231.46" y="1088.0" width="6.2" height="63.0"/>
<rect x="3239.81" y="1056.1" width="6.2" height="94.9"/>
<rect x="3248.15" y="979.0" width="6.2" height="172.0"/>
<rect x="3264.85" y="995.8" width="6.2" height="155.2"/>
<rect x="3273.20" y="1127.3" width="6.2" height="23.7"/>
<rect x="3289.89" y="1048.7" width="6.2" height="102.3"/>
<rect x="3298.24" y="1034.6" width="6.2" height="116.4"/>
<rect x="3306.59" y="1030.3" width="6.2" height="120.7"/>
<rect x="3314.94" y="1090.3" width="6.2" height="60.7"/>
<rect x="3323.28" y="1049.9" width="6.2" height="101.1"/>
<rect x="3331.63" y="1075.3" width="6.2" height="75.7"/>
<rect x="3339.98" y="1146.5" width="6.2" height="4.5"/>
<rect x="3348.33" y="1006.0" width="6.2" height="145.0"/>
<rect x="3356.68" y="1085.4" width="6.2" height="65.6"/>
<rect x="3365.02" y="1004.9" width="6.2" height="146.1"/>
<rect x="3373.37" y="1076.8" width="6.2" height="74.2"/>
<rect x="3381.72" y="1001.1" width="6.2" height="149.9"/>
<rect x="3390.07" y="1094.4" width="6.2" height="56.6"/>
<rect x="3398.42" y="1123.6" width="6.2" height="27.4"/>
<rect x="3406.76" y="1059.3" width="6.2" height="91.7"/>
<rect x="3415.11" y="969.6" width="6.2" height="181.4"/>
<rect x="3423.46" y="1112.4" width="6.2" height="38.6"/>
<rect x="3431.81" y="1079.1" width="6.2" height="71.9"/>
<rect x="3440.16" y="1038.6" width="6.2" height="112.4"/>
<rect x="3448.50" y="1101.1" width="6.2" height="49.9"/>
<rect x="3456.85" y="1126.7" width="6.2" height="24.3"/>
<rect x="3465.20" y="1031.2" width="6.2" height="119.8"/>
<rect x="3473.55" y="996.3" width="6.2" height="154.7"/>
<rect x="3481.90" y="1044.9" width="6.2" height="106.1"/>
<rect x="3490.24" y="929.1" width="6.2" height="221.9"/>
<rect x="3498.59" y="1039.1" width="6.2" height="111.9"/>
<rect x="3506.94" y="1099.3" width="6.2" height="51.7"/>
<rect x="3515.29" y="1141.4" width="6.2" height="9.6"/>
<rect x="3523.64" y="1035.2" width="6.2" height="115.8"/>
<rect x="3531.98" y="1004.9" width="6.2" height="146.1"/>
<rect x="3540.33" y="1022.2" width="6.2" height="128.8"/>
<rect x="3548.68" y="1101.1" width="6.2" height="49.9"/>
<rect x="3557.03" y="997.5" width="6.2" height="153.5"/>
<rect x="3565.38" y="1096.6" width="6.2" height="54.4"/>
<rect x="3573.72" y="1146.5" width="6.2" height="4.5"/>
<rect x="3582.07" y="1056.2" width="6.2" height="94.8"/>
<rect x="3590.42" y="1030.7" width="6.2" height="120.3"/>
<rect x="3598.77" y="1017.3" width="6.2" height="133.7"/>
<rect x="3607.12" y="1017.7" width="6.2" height="133.3"/>
<rect x="3615.46" y="1081.8" width="6.2" height="69.2"/>
<rect x="3623.81" y="1117.8" width="6.2" height="33.2"/>
<rect x="3632.16" y="1141.4" width="6.2" height="9.6"/>
<rect x="3640.51" y="980.6" width="6.2" height="170.4"/>
<rect x="3648.85" y="1051.7" width="6.2" height="99.3"/>
<rect x="3657.20" y="899.7" width="6.2" height="251.3"/>
<rect x="3665.55" y="1039.1" width="6.2" height="111.9"/>
<rect x="3673.90" y="986.5" width="6.2" height="164.5"/>
<rect x="3682.25" y="1125.8" width="6.2" height="25.2"/>
<rect x="3690.59" y="1134.6" width="6.2" height="16.4"/>
<rect x="3698.94" y="1037.9" width="6.2" height="113.1"/>
<rect x="3707.29" y="1034.6" width="6.2" height="116.4"/>
<rect x="3715.64" y="1067.8" width="6.2" height="83.2"/>
<rect x="3723.99" y="880.8" width="6.2" height="270.2"/>
<rect x="3732.33" y="1075.3" width="6.2" height="75.7"/>
<rect x="726.0" y="1150.5" width="3047.0" height="1.5" fill="#c4c4c4"/>
<rect x="726.0" y="1669.0" width="3047.0" height="2" fill="#ebebeb"/>
<rect x="726.0" y="1595.0" width="3047.0" height="2" fill="#ebebeb"/>
<rect x="726.0" y="1521.0" width="3047.0" height="2" fill="#ebebeb"/>
<rect x="726.0" y="1447.0" width="3047.0" height="2" fill="#ebebeb"/>
<rect x="760.47" y="1740.0" width="6.2" height="4.0"/>
<rect x="768.81" y="1658.5" width="6.2" height="85.5"/>
<rect x="777.16" y="1650.8" width="6.2" height="93.2"/>
<rect x="785.51" y="1647.3" width="6.2" height="96.7"/>
<rect x="793.86" y="1637.7" width="6.2" height="106.3"/>
<rect x="802.21" y="1713.0" width="6.2" height="31.0"/>
<rect x="810.55" y="1650.9" width="6.2" height="93.1"/>
<rect x="818.90" y="1742.0" width="6.2" height="2.0"/>
<rect x="827.25" y="1639.0" width="6.2" height="105.0"/>
<rect x="835.60" y="1697.1" width="6.2" height="46.9"/>
<rect x="843.95" y="1668.7" width="6.2" height="75.3"/>
<rect x="852.29" y="1637.7" width="6.2" height="106.3"/>
<rect x="860.64" y="1656.8" width="6.2" height="87.2"/>
<rect x="868.99" y="1640.4" width="6.2" height="103.6"/>
<rect x="877.34" y="1742.0" width="6.2" height="2.0"/>
<rect x="885.68" y="1691.6" width="6.2" height="52.4"/>
<rect x="894.03" y="1668.5" width="6.2" height="75.5"/>
<rect x="902.38" y="1683.0" width="6.2" height="61.0"/>
<rect x="910.73" y="1663.7" width="6.2" height="80.3"/>
<rect x="919.08" y="1661.7" width="6.2" height="82.3"/>
<rect x="927.42" y="1698.1" width="6.2" height="45.9"/>
<rect x="935.77" y="1730.0" width="6.2" height="14.0"/>
<rect x="944.12" y="1684.9" width="6.2" height="59.1"/>
<rect x="952.47" y="1680.8" width="6.2" height="63.2"/>
<rect x="960.82" y="1639.4" width="6.2" height="104.6"/>
<rect x="969.16" y="1649.2" width="6.2" height="94.8"/>
<rect x="977.51" y="1688.6" width="6.2" height="55.4"/>
<rect x="985.86" y="1738.0" width="6.2" height="6.0"/>
<rect x="1002.56" y="1647.2" width="6.2" height="96.8"/>
<rect x="1010.90" y="1690.0" width="6.2" height="54.0"/>
<rect x="1019.25" y="1658.9" width="6.2" height="85.1"/>
<rect x="1027.60" y="1690.8" width="6.2" height="53.2"/>
<rect x="1035.95" y="1698.9" width="6.2" height="45.1"/>
<rect x="1044.30" y="1728.0" width="6.2" height="16.0"/>
<rect x="1052.64" y="1742.0" width="6.2" height="2.0"/>
<rect x="1060.99" y="1642.4" width="6.2" height="101.6"/>
<rect x="1069.34" y="1685.4" width="6.2" height="58.6"/>
<rect x="1077.69" y="1685.0" width="6.2" height="59.0"/>
<rect x="1086.04" y="1635.1" width="6.2" height="108.9"/>
<rect x="1094.38" y="1642.3" width="6.2" height="101.7"/>
<rect x="1102.73" y="1726.0" width="6.2" height="18.0"/>
<rect x="1111.08" y="1740.0" width="6.2" height="4.0"/>
<rect x="1119.43" y="1680.2" width="6.2" height="63.8"/>
<rect x="1127.78" y="1636.5" width="6.2" height="107.5"/>
<rect x="1136.12" y="1664.0" width="6.2" height="80.0"/>
<rect x="1144.47" y="1654.9" width="6.2" height="89.1"/>
<rect x="1152.82" y="1685.7" width="6.2" height="58.3"/>
<rect x="1161.17" y="1725.0" width="6.2" height="19.0"/>
<rect x="1169.52" y="1739.0" width="6.2" height="5.0"/>
<rect x="1177.86" y="1637.8" width="6.2" height="106.2"/>
<rect x="1186.21" y="1654.1" width="6.2" height="89.9"/>
<rect x="1194.56" y="1636.2" width="6.2" height="107.8"/>
<rect x="1202.91" y="1640.9" width="6.2" height="103.1"/>
<rect x="1211.25" y="1672.1" width="6.2" height="71.9"/>
<rect x="1219.60" y="1722.7" width="6.2" height="21.3"/>
<rect x="1227.95" y="1739.7" width="6.2" height="4.3"/>
<rect x="1236.30" y="1709.6" width="6.2" height="34.4"/>
<rect x="1244.65" y="1655.8" width="6.2" height="88.2"/>
<rect x="1252.99" y="1694.3" width="6.2" height="49.7"/>
<rect x="1261.34" y="1690.7" width="6.2" height="53.3"/>
<rect x="1269.69" y="1709.1" width="6.2" height="34.9"/>
<rect x="1278.04" y="1721.5" width="6.2" height="22.5"/>
<rect x="1286.39" y="1738.3" width="6.2" height="5.7"/>
<rect x="1294.73" y="1704.8" width="6.2" height="39.2"/>
<rect x="1303.08" y="1651.0" width="6.2" height="93.0"/>
<rect x="1311.43" y="1677.3" width="6.2" height="66.7"/>
<rect x="1319.78" y="1698.3" width="6.2" height="45.7"/>
<rect x="1328.13" y="1640.3" width="6.2" height="103.7"/>
<rect x="1336.47" y="1677.3" width="6.2" height="66.7"/>
<rect x="1344.82" y="1742.5" width="6.2" height="1.5"/>
<rect x="1353.17" y="1592.5" width="6.2" height="151.5"/>
<rect x="1361.52" y="1661.8" width="6.2" height="82.2"/>
<rect x="1369.87" y="1650.5" width="6.2" height="93.5"/>
<rect x="1378.21" y="1674.0" width="6.2" height="70.0"/>
<rect x="1386.56" y="1677.3" width="6.2" height="66.7"/>
<rect x="1394.91" y="1677.6" width="6.2" height="66.4"/>
<rect x="1403.26" y="1742.5" width="6.2" height="1.5"/>
<rect x="1411.61" y="1567.4" width="6.2" height="176.6"/>
<rect x="1419.95" y="1685.2" width="6.2" height="58.8"/>
<rect x="1428.30" y="1614.0" width="6.2" height="130.0"/>
<rect x="1436.65" y="1631.9" width="6.2" height="112.1"/>
<rect x="1445.00" y="1663.2" width="6.2" height="80.8"/>
<rect x="1453.35" y="1731.3" width="6.2" height="12.7"/>
<rect x="1461.69" y="1639.3" width="6.2" height="104.7"/>
<rect x="1478.39" y="1654.6" width="6.2" height="89.4"/>
<rect x="1486.74" y="1633.8" width="6.2" height="110.2"/>
<rect x="1495.08" y="1676.4" width="6.2" height="67.6"/>
<rect x="1503.43" y="1723.9" width="6.2" height="20.1"/>
<rect x="1511.78" y="1731.3" width="6.2" height="12.7"/>
<rect x="1520.13" y="1736.1" width="6.2" height="7.9"/>
<rect x="1528.48" y="1662.0" width="6.2" height="82.0"/>
<rect x="1536.82" y="1688.3" width="6.2" height="55.7"/>
<rect x="1545.17" y="1625.4" width="6.2" height="118.6"/>
<rect x="1553.52" y="1681.6" width="6.2" height="62.4"/>
<rect x="1561.87" y="1678.5" width="6.2" height="65.5"/>
<rect x="1570.22" y="1706.0" width="6.2" height="38.0"/>
<rect x="1578.56" y="1730.6" width="6.2" height="13.4"/>
<rect x="1586.91" y="1651.7" width="6.2" height="92.3"/>
<rect x="1595.26" y="1658.2" width="6.2" height="85.8"/>
<rect x="1603.61" y="1631.4" width="6.2" height="112.6"/>
<rect x="1611.96" y="1659.4" width="6.2" height="84.6"/>
<rect x="1620.30" y="1679.9" width="6.2" height="64.1"/>
<rect x="1628.65" y="1730.6" width="6.2" height="13.4"/>
<rect x="1637.00" y="1736.6" width="6.2" height="7.4"/>
<rect x="1645.35" y="1642.9" width="6.2" height="101.1"/>
<rect x="1653.70" y="1690.7" width="6.2" height="53.3"/>
<rect x="1662.04" y="1686.9" width="6.2" height="57.1"/>
<rect x="1670.39" y="1665.4" width="6.2" height="78.6"/>
<rect x="1678.74" y="1700.7" width="6.2" height="43.3"/>
<rect x="1687.09" y="1702.6" width="6.2" height="41.4"/>
<rect x="1695.44" y="1736.6" width="6.2" height="7.4"/>
<rect x="1703.78" y="1647.7" width="6.2" height="96.3"/>
<rect x="1712.13" y="1710.8" width="6.2" height="33.2"/>
<rect x="1720.48" y="1672.1" width="6.2" height="71.9"/>
<rect x="1728.83" y="1669.7" width="6.2" height="74.3"/>
<rect x="1737.18" y="1669.7" width="6.2" height="74.3"/>
<rect x="1745.52" y="1722.7" width="6.2" height="21.3"/>
<rect x="1753.87" y="1723.9" width="6.2" height="20.1"/>
<rect x="1762.22" y="1688.8" width="6.2" height="55.2"/>
<rect x="1770.57" y="1720.3" width="6.2" height="23.7"/>
<rect x="1778.92" y="1635.0" width="6.2" height="109.0"/>
<rect x="1787.26" y="1579.3" width="6.2" height="164.7"/>
<rect x="1795.61" y="1633.8" width="6.2" height="110.2"/>
<rect x="1803.96" y="1683.5" width="6.2" height="60.5"/>
<rect x="1812.31" y="1739.0" width="6.2" height="5.0"/>
<rect x="1820.65" y="1696.4" width="6.2" height="47.6"/>
<rect x="1829.00" y="1687.1" width="6.2" height="56.9"/>
<rect x="1837.35" y="1708.4" width="6.2" height="35.6"/>
<rect x="1845.70" y="1637.4" width="6.2" height="106.6"/>
<rect x="1854.05" y="1587.2" width="6.2" height="156.8"/>
<rect x="1862.39" y="1696.0" width="6.2" height="48.0"/>
<rect x="1870.74" y="1742.5" width="6.2" height="1.5"/>
<rect x="1879.09" y="1619.5" width="6.2" height="124.5"/>
<rect x="1887.44" y="1654.1" width="6.2" height="89.9"/>
<rect x="1895.79" y="1679.2" width="6.2" height="64.8"/>
<rect x="1904.13" y="1682.3" width="6.2" height="61.7"/>
<rect x="1912.48" y="1682.3" width="6.2" height="61.7"/>
<rect x="1920.83" y="1684.7" width="6.2" height="59.3"/>
<rect x="1929.18" y="1735.4" width="6.2" height="8.6"/>
<rect x="1937.53" y="1667.8" width="6.2" height="76.2"/>
<rect x="1945.87" y="1643.9" width="6.2" height="100.1"/>
<rect x="1954.22" y="1654.6" width="6.2" height="89.4"/>
<rect x="1962.57" y="1621.1" width="6.2" height="122.9"/>
<rect x="1970.92" y="1648.2" width="6.2" height="95.8"/>
<rect x="1987.61" y="1729.4" width="6.2" height="14.6"/>
<rect x="1995.96" y="1627.8" width="6.2" height="116.2"/>
<rect x="2004.31" y="1613.0" width="6.2" height="131.0"/>
<rect x="2012.66" y="1614.0" width="6.2" height="130.0"/>
<rect x="2021.01" y="1661.3" width="6.2" height="82.7"/>
<rect x="2029.35" y="1638.6" width="6.2" height="105.4"/>
<rect x="2037.70" y="1710.8" width="6.2" height="33.2"/>
<rect x="2046.05" y="1723.4" width="6.2" height="20.6"/>
<rect x="2054.40" y="1596.1" width="6.2" height="147.9"/>
<rect x="2062.75" y="1608.2" width="6.2" height="135.8"/>
<rect x="2071.09" y="1616.6" width="6.2" height="127.4"/>
<rect x="2079.44" y="1658.9" width="6.2" height="85.1"/>
<rect x="2087.79" y="1651.0" width="6.2" height="93.0"/>
<rect x="2096.14" y="1689.3" width="6.2" height="54.7"/>
<rect x="2104.48" y="1734.2" width="6.2" height="9.8"/>
<rect x="2112.83" y="1610.6" width="6.2" height="133.4"/>
<rect x="2121.18" y="1596.1" width="6.2" height="147.9"/>
<rect x="2129.53" y="1505.2" width="6.2" height="238.8"/>
<rect x="2137.88" y="1651.3" width="6.2" height="92.7"/>
<rect x="2146.22" y="1654.8" width="6.2" height="89.2"/>
<rect x="2154.57" y="1698.3" width="6.2" height="45.7"/>
<rect x="2162.92" y="1735.4" width="6.2" height="8.6"/>
<rect x="2171.27" y="1620.2" width="6.2" height="123.8"/>
<rect x="2179.62" y="1540.1" width="6.2" height="203.9"/>
<rect x="2187.96" y="1646.2" width="6.2" height="97.8"/>
<rect x="2196.31" y="1585.5" width="6.2" height="158.5"/>
<rect x="2204.66" y="1611.1" width="6.2" height="132.9"/>
<rect x="2213.01" y="1692.8" width="6.2" height="51.2"/>
<rect x="2221.36" y="1726.3" width="6.2" height="17.7"/>
<rect x="2229.70" y="1600.4" width="6.2" height="143.6"/>
<rect x="2238.05" y="1681.6" width="6.2" height="62.4"/>
<rect x="2246.40" y="1662.5" width="6.2" height="81.5"/>
<rect x="2254.75" y="1679.7" width="6.2" height="64.3"/>
<rect x="2263.10" y="1615.9" width="6.2" height="128.1"/>
<rect x="2271.44" y="1668.0" width="6.2" height="76.0"/>
<rect x="2279.79" y="1739.5" width="6.2" height="4.5"/>
<rect x="2288.14" y="1686.9" width="6.2" height="57.1"/>
<rect x="2296.49" y="1708.6" width="6.2" height="35.4"/>
<rect x="2304.84" y="1631.9" width="6.2" height="112.1"/>
<rect x="2313.18" y="1671.6" width="6.2" height="72.4"/>
<rect x="2321.53" y="1681.6" width="6.2" height="62.4"/>
<rect x="2329.88" y="1682.3" width="6.2" height="61.7"/>
<rect x="2338.23" y="1741.8" width="6.2" height="2.2"/>
<rect x="2346.58" y="1674.0" width="6.2" height="70.0"/>
<rect x="2354.92" y="1689.3" width="6.2" height="54.7"/>
<rect x="2363.27" y="1673.7" width="6.2" height="70.3"/>
<rect x="2371.62" y="1656.5" width="6.2" height="87.5"/>
<rect x="2379.97" y="1695.5" width="6.2" height="48.5"/>
<rect x="2388.32" y="1686.4" width="6.2" height="57.6"/>
<rect x="2405.01" y="1652.5" width="6.2" height="91.5"/>
<rect x="2413.36" y="1649.8" width="6.2" height="94.2"/>
<rect x="2421.71" y="1713.9" width="6.2" height="30.1"/>
<rect x="2430.05" y="1686.4" width="6.2" height="57.6"/>
<rect x="2438.40" y="1697.2" width="6.2" height="46.8"/>
<rect x="2446.75" y="1694.8" width="6.2" height="49.2"/>
<rect x="2455.10" y="1715.6" width="6.2" height="28.4"/>
<rect x="2463.45" y="1677.6" width="6.2" height="66.4"/>
<rect x="2471.79" y="1661.8" width="6.2" height="82.2"/>
<rect x="2480.14" y="1647.7" width="6.2" height="96.3"/>
<rect x="2488.49" y="1684.7" width="6.2" height="59.3"/>
<rect x="2496.84" y="1647.4" width="6.2" height="96.6"/>
<rect x="2505.19" y="1599.9" width="6.2" height="144.1"/>
<rect x="2513.53" y="1733.0" width="6.2" height="11.0"/>
<rect x="2521.88" y="1584.3" width="6.2" height="159.7"/>
<rect x="2530.23" y="1645.0" width="6.2" height="99.0"/>
<rect x="2538.58" y="1596.8" width="6.2" height="147.2"/>
<rect x="2546.93" y="1572.2" width="6.2" height="171.8"/>
<rect x="2555.27" y="1611.1" width="6.2" height="132.9"/>
<rect x="2563.62" y="1683.5" width="6.2" height="60.5"/>
<rect x="2580.32" y="1594.4" width="6.2" height="149.6"/>
<rect x="2588.67" y="1639.1" width="6.2" height="104.9"/>
<rect x="2597.01" y="1577.2" width="6.2" height="166.8"/>
<rect x="2605.36" y="1604.7" width="6.2" height="139.3"/>
<rect x="2613.71" y="1650.1" width="6.2" height="93.9"/>
<rect x="2622.06" y="1626.6" width="6.2" height="117.4"/>
<rect x="2630.41" y="1739.7" width="6.2" height="4.3"/>
<rect x="2638.75" y="1594.4" width="6.2" height="149.6"/>
<rect x="2647.10" y="1614.0" width="6.2" height="130.0"/>
<rect x="2655.45" y="1556.9" width="6.2" height="187.1"/>
<rect x="2663.80" y="1655.3" width="6.2" height="88.7"/>
<rect x="2672.15" y="1535.1" width="6.2" height="208.9"/>
<rect x="2680.49" y="1674.4" width="6.2" height="69.6"/>
<rect x="2688.84" y="1703.6" width="6.2" height="40.4"/>
<rect x="2697.19" y="1660.6" width="6.2" height="83.4"/>
<rect x="2705.54" y="1609.4" width="6.2" height="134.6"/>
<rect x="2713.88" y="1677.6" width="6.2" height="66.4"/>
<rect x="2722.23" y="1580.5" width="6.2" height="163.5"/>
<rect x="2730.58" y="1533.4" width="6.2" height="210.6"/>
<rect x="2738.93" y="1696.4" width="6.2" height="47.6"/>
<rect x="2755.62" y="1620.2" width="6.2" height="123.8"/>
<rect x="2763.97" y="1620.7" width="6.2" height="123.3"/>
<rect x="2772.32" y="1537.5" width="6.2" height="206.5"/>
<rect x="2780.67" y="1599.9" width="6.2" height="144.1"/>
<rect x="2789.02" y="1598.7" width="6.2" height="145.3"/>
<rect x="2797.36" y="1648.9" width="6.2" height="95.1"/>
<rect x="2805.71" y="1739.7" width="6.2" height="4.3"/>
<rect x="2814.06" y="1538.9" width="6.2" height="205.1"/>
<rect x="2822.41" y="1668.5" width="6.2" height="75.5"/>
<rect x="2830.76" y="1677.6" width="6.2" height="66.4"/>
<rect x="2839.10" y="1577.2" width="6.2" height="166.8"/>
<rect x="2847.45" y="1573.3" width="6.2" height="170.7"/>
<rect x="2855.80" y="1678.5" width="6.2" height="65.5"/>
<rect x="2864.15" y="1739.7" width="6.2" height="4.3"/>
<rect x="2872.50" y="1624.3" width="6.2" height="119.7"/>
<rect x="2880.84" y="1574.1" width="6.2" height="169.9"/>
<rect x="2889.19" y="1574.1" width="6.2" height="169.9"/>
<rect x="2897.54" y="1522.2" width="6.2" height="221.8"/>
<rect x="2905.89" y="1616.6" width="6.2" height="127.4"/>
<rect x="2914.24" y="1700.0" width="6.2" height="44.0"/>
<rect x="2922.58" y="1683.5" width="6.2" height="60.5"/>
<rect x="2930.93" y="1665.4" width="6.2" height="78.6"/>
<rect x="2939.28" y="1566.9" width="6.2" height="177.1"/>
<rect x="2947.63" y="1643.4" width="6.2" height="100.6"/>
<rect x="2955.98" y="1584.3" width="6.2" height="159.7"/>
<rect x="2964.32" y="1545.4" width="6.2" height="198.6"/>
<rect x="2972.67" y="1684.0" width="6.2" height="60.0"/>
<rect x="2981.02" y="1700.0" width="6.2" height="44.0"/>
<rect x="2989.37" y="1611.1" width="6.2" height="132.9"/>
<rect x="2997.72" y="1644.6" width="6.2" height="99.4"/>
<rect x="3006.06" y="1689.5" width="6.2" height="54.5"/>
<rect x="3014.41" y="1584.3" width="6.2" height="159.7"/>
<rect x="3022.76" y="1579.3" width="6.2" height="164.7"/>
<rect x="3031.11" y="1679.2" width="6.2" height="64.8"/>
<rect x="3039.45" y="1733.0" width="6.2" height="11.0"/>
<rect x="3047.80" y="1578.8" width="6.2" height="165.2"/>
<rect x="3056.15" y="1607.0" width="6.2" height="137.0"/>
<rect x="3064.50" y="1667.8" width="6.2" height="76.2"/>
<rect x="3072.85" y="1644.6" width="6.2" height="99.4"/>
<rect x="3081.19" y="1657.0" width="6.2" height="87.0"/>
<rect x="3089.54" y="1695.5" width="6.2" height="48.5"/>
<rect x="3097.89" y="1716.3" width="6.2" height="27.7"/>
<rect x="3106.24" y="1519.8" width="6.2" height="224.2"/>
<rect x="3114.59" y="1616.4" width="6.2" height="127.6"/>
<rect x="3122.93" y="1681.6" width="6.2" height="62.4"/>
<rect x="3131.28" y="1673.3" width="6.2" height="70.7"/>
<rect x="3139.63" y="1522.0" width="6.2" height="222.0"/>
<rect x="3147.98" y="1708.4" width="6.2" height="35.6"/>
<rect x="3156.33" y="1725.1" width="6.2" height="18.9"/>
<rect x="3164.67" y="1633.3" width="6.2" height="110.7"/>
<rect x="3173.02" y="1660.6" width="6.2" height="83.4"/>
<rect x="3181.37" y="1624.7" width="6.2" height="119.3"/>
<rect x="3189.72" y="1560.4" width="6.2" height="183.6"/>
<rect x="3198.07" y="1598.4" width="6.2" height="145.6"/>
<rect x="3206.41" y="1694.8" width="6.2" height="49.2"/>
<rect x="3223.11" y="1662.5" width="6.2" height="81.5"/>
<rect x="3231.46" y="1579.3" width="6.2" height="164.7"/>
<rect x="3239.81" y="1632.1" width="6.2" height="111.9"/>
<rect x="3248.15" y="1523.2" width="6.2" height="220.8"/>
<rect x="3264.85" y="1705.5" width="6.2" height="38.5"/>
<rect x="3273.20" y="1715.8" width="6.2" height="28.2"/>
<rect x="3281.55" y="1611.8" width="6.2" height="132.2"/>
<rect x="3289.89" y="1597.2" width="6.2" height="146.8"/>
<rect x="3298.24" y="1562.6" width="6.2" height="181.4"/>
<rect x="3306.59" y="1605.1" width="6.2" height="138.9"/>
<rect x="3314.94" y="1566.9" width="6.2" height="177.1"/>
<rect x="3323.28" y="1612.3" width="6.2" height="131.7"/>
<rect x="3331.63" y="1734.8" width="6.2" height="9.2"/>
<rect x="3339.98" y="1598.6" width="6.2" height="145.4"/>
<rect x="3348.33" y="1583.1" width="6.2" height="160.9"/>
<rect x="3356.68" y="1544.2" width="6.2" height="199.8"/>
<rect x="3365.02" y="1596.0" width="6.2" height="148.0"/>
<rect x="3373.37" y="1570.9" width="6.2" height="173.1"/>
<rect x="3381.72" y="1701.2" width="6.2" height="42.8"/>
<rect x="3390.07" y="1707.1" width="6.2" height="36.9"/>
<rect x="3398.42" y="1578.8" width="6.2" height="165.2"/>
<rect x="3406.76" y="1450.5" width="6.2" height="293.5"/>
<rect x="3415.11" y="1572.4" width="6.2" height="171.6"/>
<rect x="3423.46" y="1511.2" width="6.2" height="232.8"/>
<rect x="3431.81" y="1549.4" width="6.2" height="194.6"/>
<rect x="3440.16" y="1618.2" width="6.2" height="125.8"/>
<rect x="3448.50" y="1721.5" width="6.2" height="22.5"/>
<rect x="3456.85" y="1624.9" width="6.2" height="119.1"/>
<rect x="3465.20" y="1557.8" width="6.2" height="186.2"/>
<rect x="3473.55" y="1532.7" width="6.2" height="211.3"/>
<rect x="3481.90" y="1550.6" width="6.2" height="193.4"/>
<rect x="3490.24" y="1562.8" width="6.2" height="181.2"/>
<rect x="3498.59" y="1636.9" width="6.2" height="107.1"/>
<rect x="3506.94" y="1728.6" width="6.2" height="15.4"/>
<rect x="3515.29" y="1614.2" width="6.2" height="129.8"/>
<rect x="3523.64" y="1616.6" width="6.2" height="127.4"/>
<rect x="3531.98" y="1551.3" width="6.2" height="192.7"/>
<rect x="3540.33" y="1568.1" width="6.2" height="175.9"/>
<rect x="3548.68" y="1618.2" width="6.2" height="125.8"/>
<rect x="3557.03" y="1705.0" width="6.2" height="39.0"/>
<rect x="3565.38" y="1712.1" width="6.2" height="31.9"/>
<rect x="3573.72" y="1606.3" width="6.2" height="137.7"/>
<rect x="3582.07" y="1591.5" width="6.2" height="152.5"/>
<rect x="3590.42" y="1554.4" width="6.2" height="189.6"/>
<rect x="3598.77" y="1602.0" width="6.2" height="142.0"/>
<rect x="3607.12" y="1654.8" width="6.2" height="89.2"/>
<rect x="3615.46" y="1621.1" width="6.2" height="122.9"/>
<rect x="3623.81" y="1734.8" width="6.2" height="9.2"/>
<rect x="3632.16" y="1586.0" width="6.2" height="158.0"/>
<rect x="3640.51" y="1658.9" width="6.2" height="85.1"/>
<rect x="3648.85" y="1622.5" width="6.2" height="121.5"/>
<rect x="3657.20" y="1624.7" width="6.2" height="119.3"/>
<rect x="3665.55" y="1553.2" width="6.2" height="190.8"/>
<rect x="3673.90" y="1686.3" width="6.2" height="57.7"/>
<rect x="3682.25" y="1739.6" width="6.2" height="4.4"/>
<rect x="3690.59" y="1667.9" width="6.2" height="76.1"/>
<rect x="3698.94" y="1535.8" width="6.2" height="208.2"/>
<rect x="3707.29" y="1592.7" width="6.2" height="151.3"/>
<rect x="3715.64" y="1575.9" width="6.2" height="168.1"/>
<rect x="3723.99" y="1547.3" width="6.2" height="196.7"/>
<rect x="3732.33" y="1645.2" width="6.2" height="98.8"/>
<rect x="3740.68" y="1732.2" width="6.2" height="11.8"/>
<rect x="3749.03" y="1558.0" width="6.2" height="186.0"/>
<rect x="726.0" y="1743.5" width="3047.0" height="1.5" fill="#c4c4c4"/>
</g>
<g fill="#444" font-family='"Liberation Sans", "Noto Sans CJK JP", sans-serif' font-size="24">
<text x="730.2" y="586.5" text-anchor="middle" font-size="25.8">1月 2021</text>
<text x="1222.7" y="586.5" text-anchor="middle" font-size="25.8">3月 2021</text>
<text x="1731.9" y="586.5" text-anchor="middle" font-size="25.8">5月 2021</text>
<text x="2241.2" y="586.5" text-anchor="middle" font-size="25.8">7月 2021</text>
<text x="2758.7" y="586.5" text-anchor="middle" font-size="25.8">9月 2021</text>
<text x="3267.9" y="586.5" text-anchor="middle" font-size="25.8">11月 2021</text>
<text x="722.0" y="567" text-anchor="end">0</text>
<text x="2248" y="685" text-anchor="middle" font-size="34">2021-01-01</text>
<text x="730.2" y="1179.5" text-anchor="middle" font-size="25.8">1月 2022</text>
<text x="1222.7" y="1179.5" text-anchor="middle" font-size="25.8">3月 2022</text>
<text x="1731.9" y="1179.5" text-anchor="middle" font-size="25.8">5月 2022</text>
<text x="2241.2" y="1179.5" text-anchor="middle" font-size="25.8">7月 2022</text>
<text x="2758.7" y="1179.5" text-anchor="middle" font-size="25.8">9月 2022</text>
<text x="3267.9" y="1179.5" text-anchor="middle" font-size="25.8">11月 2022</text>
<text x="722.0" y="1160" text-anchor="end">0</text>
<text x="2248" y="1278" text-anchor="middle" font-size="34">2022-01-01</text>
<text x="730.2" y="1772.5" text-anchor="middle" font-size="25.8">1月 2023</text>
<text x="1222.7" y="1772.5" text-anchor="middle" font-size="25.8">3月 2023</text>
<text x="1731.9" y="1772.5" text-anchor="middle" font-size="25.8">5月 2023</text>
<text x="2241.2" y="1772.5" text-anchor="middle" font-size="25.8">7月 2023</text>
<text x="2758.7" y="1772.5" text-anchor="middle" font-size="25.8">9月 2023</text>
<text x="3267.9" y="1772.5" text-anchor="middle" font-size="25.8">11月 2023</text>
<text x="722.0" y="1753" text-anchor="end">0</text>
<text x="2248" y="1871" text-anchor="middle" font-size="34">2023-01-01</text>
</g></svg>

<!-- right toolbar -->
<div class="a" style="left:1299px;top:136px;width:33px;height:33px;border-radius:6px;background:#3478f6"></div>
<svg class="a" style="left:1299px;top:136px" width="33" height="33" viewBox="0 0 33 33"><path d="M8 17 L14 24 L26 9" fill="none" stroke="#fff" stroke-width="5" stroke-linecap="round" stroke-linejoin="round"/></svg>
<div class="a" style="left:1343px;top:131px;font-size:31px;line-height:48px;color:#555;white-space:nowrap">Y軸を同期</div>
<div class="a" style="left:1118px;top:131px;font-size:31px;line-height:48px;color:#555;white-space:nowrap">X軸を同期</div>

<svg class="a" style="left:3470px;top:30px" width="290" height="50" viewBox="0 0 290 50" fill="none" stroke="#444" stroke-width="2.5">
 <path d="M27 11.8 C18.6 11.8 12 17 12 23.6 C12 27.4 14.1 30.6 17.5 32.8 L12.6 38.2 L22.6 35.1 C24 35.5 25.5 35.6 27 35.6 C35.4 35.6 42 30.3 42 23.6 C42 17 35.4 11.8 27 11.8 Z" stroke-width="2" stroke="#555" stroke-linejoin="round"/>
 <path d="M98.7 11 V34.2 M88.6 21.4 L98.7 11.2 L108.8 21.4 M86.3 38.1 H111.6"/>
 <path d="M175.5 10.2 V32.5 M165.4 23.6 L175.5 33.2 L185.6 23.6 M162.9 38.1 H188"/>
 <path d="M254 22.3 L265.6 10.9 M249.6 26.6 L238.4 37.9 M258.8 10.6 H266.2 V17.6 M237.9 31 V38.4 H245"/>
</svg>
<div class="a" style="left:3760px;top:14px;width:77.5px;height:78px;border-radius:50%;background:#4fa874"></div>
<svg class="a" style="left:3780px;top:34px" width="40" height="40" viewBox="0 0 40 40"><path d="M8.2 3.9 H29 V10 H25.5 V17.5 C27.5 18.5 31.9 21 31.9 26.6 H6 C6 21 10.3 18.5 11.7 17.5 V10 H8.2 Z M16.3 26.5 H20.9 V33 L18.6 37.2 L16.3 33 Z" fill="#fff"/></svg>
<div class="a" style="left:3837px;top:0;width:3px;height:1890px;background:#f5f5f5"></div>
<div class="a" style="left:3836px;top:52.5px;width:4px;height:4.5px;background:#4fa874"></div>

<!-- left panel -->
<div class="lbl" style="top:46px;left:13.5px">タイプ</div>
<svg class="a" style="left:368px;top:48px" width="38" height="38" viewBox="0 0 38 38"><circle cx="19" cy="17.5" r="16.2" fill="none" stroke="#555" stroke-width="2.2"/><text x="19.2" y="26.6" text-anchor="middle" font-family="Liberation Sans" font-weight="bold" font-size="25" fill="#555">?</text></svg>
<svg class="a" style="left:429px;top:48px" width="40" height="38" viewBox="0 0 40 38" id="gear1"><g transform="translate(20,18)" fill="none" stroke="#555" stroke-width="2.2"><path id="gp" d="M-4.17 -12.10 L-4.02 -16.11 L4.02 -16.11 L4.17 -12.10 A12.8 12.8 0 0 1 8.40 -9.66 L11.94 -11.53 L15.96 -4.58 L12.56 -2.44 A12.8 12.8 0 0 1 12.56 2.44 L15.96 4.58 L11.94 11.53 L8.40 9.66 A12.8 12.8 0 0 1 4.17 12.10 L4.02 16.11 L-4.02 16.11 L-4.17 12.10 A12.8 12.8 0 0 1 -8.40 9.66 L-11.94 11.53 L-15.96 4.58 L-12.56 2.44 A12.8 12.8 0 0 1 -12.56 -2.44 L-15.96 -4.58 L-11.94 -11.53 L-8.40 -9.66 A12.8 12.8 0 0 1 -4.17 -12.10 Z" stroke-linejoin="round"/><circle r="5.8"/></g></svg>

<div class="fld" style="top:98px"><span class="ph" style="left:20px;color:#444">バー</span>
 <svg class="a" style="left:421px;top:19px" width="26" height="15" viewBox="0 0 26 15"><path d="M2 2.2 H23 L12.5 13.5 Z" fill="#333"/></svg></div>

<div class="lbl" style="top:187px">X軸</div>
<div class="fld" style="top:240px">
 <svg class="a" style="left:25px;top:10px" width="30" height="34" viewBox="0 0 30 34"><rect x="2.2" y="6.2" width="25" height="25.5" rx="3" fill="none" stroke="#3a82cf" stroke-width="2.6"/><rect x="2" y="6" width="25.5" height="5.5" fill="#3a82cf"/><rect x="7" y="1" width="3.5" height="6" fill="#3a82cf"/><rect x="18.3" y="1" width="3.5" height="6" fill="#3a82cf"/></svg>
 <span class="t">注文日</span><div class="badge">DAY</div></div>
<div class="ham" style="top:257px"></div>

<div class="lbl" style="top:344px">Y軸</div>
<div class="fld" style="top:395px">
 <span class="t" style="left:71px">売上</span><div class="badge">SUM</div></div>
<div class="ham" style="top:412px"></div>
<svg class="a" style="left:20px;top:400px" width="45" height="45" viewBox="0 0 45 45" fill="none" stroke="#59ad59" stroke-width="2.9" stroke-linecap="round"><path d="M22.2 10.6 L17.4 36 M32.1 10.6 L27.3 36 M13.5 17.7 H37.4 M11.4 28.9 H35.3"/></svg>

<div class="fld" style="top:489px"><span class="ph">選択...</span><div class="badge lt">-</div></div>

<div class="lbl" style="top:597px">色で分割</div>
<div class="fld" style="top:650px"><span class="ph">選択...</span><div class="badge lt">-</div></div>
<div class="ham" style="top:666px"></div>

<div class="lbl" style="top:736px">並び替え (ソート)</div>
<div class="a" style="left:274px;top:741px;width:32px;height:32px;border:2px solid #ccc;border-radius:6px;background:#f7f7f7"></div>
<svg class="a" style="left:428px;top:736px" width="40" height="38" viewBox="0 0 40 38"><g transform="translate(19,18)" fill="none" stroke="#555" stroke-width="2.2"><use href="#gp"/><circle r="5.8"/></g></svg>
<div class="fld" style="top:792px"><span class="ph" style="color:#aaa">選択...</span><div class="badge lt">DESC</div></div>

<div class="lbl" style="top:880px">繰り返し</div>
<div class="fld" style="top:934px">
 <svg class="a" style="left:25px;top:10px" width="30" height="34" viewBox="0 0 30 34"><rect x="2.2" y="6.2" width="25" height="25.5" rx="3" fill="none" stroke="#3a82cf" stroke-width="2.6"/><rect x="2" y="6" width="25.5" height="5.5" fill="#3a82cf"/><rect x="7" y="1" width="3.5" height="6" fill="#3a82cf"/><rect x="18.3" y="1" width="3.5" height="6" fill="#3a82cf"/></svg>
 <span class="t">注文日</span><div class="badge">YEAR</div></div>

<div class="lbl" style="top:1023px">向き</div>
<div class="seg" style="top:1076px;color:#444"><div style="background:#e6e6e6;box-shadow:inset 0 3px 5px rgba(0,0,0,.125)">縦</div><div>横</div></div>

<div class="lbl" style="top:1164px">バー・チャート・タイプ</div>
<div class="seg" style="top:1218px;color:#999;border-color:#ddd"><div>積み上げ</div><div style="border-color:#ddd">横並び</div></div>

<div class="btn" style="left:3px;top:1326px;width:462px;height:63px;background:#80c6a4;color:#fff;line-height:63px;font-size:33px">実行</div>
<div class="cb" style="left:5px;top:1413px"><svg width="33" height="33" viewBox="0 0 33 33"><path d="M8 17 L14 24 L26 9" fill="none" stroke="#fff" stroke-width="5" stroke-linecap="round" stroke-linejoin="round"/></svg></div>
<div class="a" style="left:57px;top:1405px;font-size:33px;line-height:48px;color:#555;white-space:nowrap">自動実行</div>

<!-- modal -->
<div class="clip"><div class="modal">
 <div class="mt" style="left:27px;top:34.5px;font-size:36.5px;line-height:50px">設定</div>
 <div class="mline" style="left:0;top:115px;width:669px"></div>
 <div class="tab" style="left:28px">一般</div>
 <div class="tab on" style="left:182px">軸</div>
 <div class="tab" style="left:335px">値</div>
 <div class="a" style="left:487px;top:134px;width:2px;height:66px;background:#ddd"></div>
 <div class="tab" style="left:489px;font-size:33.5px">凡例</div>
 <div class="mline" style="left:27px;top:215px;width:614px"></div>
 <div class="xseg"><div style="width:201px;background:#4fa874;color:#fff">X軸</div><div style="width:201px;color:#4fa874;border-left:2.5px solid #4fa874">Y軸</div><div style="flex:1;color:#ccc;border-left:2.5px solid #4fa874">Y2軸</div></div>
 <div class="mline" style="left:27px;top:326.5px;width:614px"></div>

 <!-- scroll body -->
 <div class="a" style="left:0;top:328px;width:671px;height:1257px;overflow:hidden">
  <div class="a" style="left:629px;top:0;width:40px;height:1257px;background:#f9f9f9;border-left:2px solid #ececec"></div>
  <div class="a" style="left:639px;top:507px;width:21px;height:622px;border-radius:11px;background:#c2c2c2"></div>

  <div class="mt" style="left:32px;top:37px;font-size:33px;line-height:48px">スケール</div>
  <div class="gl" style="left:35px;top:124px;line-height:44px">範囲 (最小, 最大)</div>
  <div class="inp" style="left:33px;top:181px;width:565px;height:63px;line-height:58px;padding-left:13px">例: 0,100</div>
  <div class="help" style="left:35px;top:258px">列が数値型のときのみ有効です。</div>

  <div class="gl" style="left:35px;top:334px;line-height:44px">各ステップの幅</div>
  <div class="inp" style="left:33px;top:389px;width:565px;height:63px;line-height:58px;padding-left:13px">デフォルト: 自動</div>
  <div class="help" style="left:35px;top:467px">値は0より大きい値を指定してください。</div>
  <div class="help" style="left:35px;top:521px">列が数値型のときのみ有効です。</div>

  <div class="cb" style="left:35px;top:600px"><svg width="33" height="33" viewBox="0 0 33 33"><path d="M8 17 L14 24 L26 9" fill="none" stroke="#fff" stroke-width="5" stroke-linecap="round" stroke-linejoin="round"/></svg></div>
  <div class="a" style="left:82px;top:593px;font-size:31px;line-height:48px;color:#555;white-space:nowrap">年間全体を表示</div>
  <div class="help" id="desc" style="left:35px;top:650px">データがない期間も含め、X軸を1月から12月ま<br>で表示します。X軸に日付型のデータが割り当て<br>られていて、「X軸を同期」のオプションがオフ<br>のときのみ利用可能です。</div>

  <div class="mline" style="left:22px;top:870px;width:586px"></div>
  <div class="mt" style="left:32px;top:917px;font-size:33.5px;line-height:48px">X軸の目盛線</div>

  <div class="cb" style="left:35px;top:1009px"><svg width="33" height="33" viewBox="0 0 33 33"><path d="M8 17 L14 24 L26 9" fill="none" stroke="#fff" stroke-width="5" stroke-linecap="round" stroke-linejoin="round"/></svg></div>
  <div class="a" style="left:81px;top:1002px;font-size:31.5px;line-height:48px;color:#555;white-space:nowrap">0の線</div>
  <div class="a" style="left:35px;top:1063px;font-size:29px;line-height:44px;color:#555">色</div>
  <div class="a" style="left:456px;top:1064px;font-size:31px;line-height:44px;color:#555">太さ</div>
  <div class="a" style="left:33px;top:1120px;width:405px;height:63px;border:2.5px solid #ccc;border-radius:9px;background:#fff">
   <svg class="a" style="left:20px;top:12px" width="52" height="34" viewBox="0 0 52 34"><rect x="1" y="1" width="50" height="32" fill="none" stroke="#ccc" stroke-width="2"/><path d="M1 1 L51 33 M51 1 L1 33" stroke="#ccc" stroke-width="1.6"/></svg>
   <span class="a" style="left:90px;top:2px;font-size:30px;line-height:58px;color:#444;white-space:nowrap">(デフォルト)</span>
   <svg class="a" style="left:366px;top:24px" width="22" height="12" viewBox="0 0 22 12"><path d="M1 1 H21 L11 11 Z" fill="#333"/></svg>
  </div>
  <div class="a" style="left:453px;top:1120px;width:145px;height:63px;border:2.5px solid #ccc;border-radius:9px;background:#fff;font-size:30px;line-height:58px;color:#aaa;padding-left:16px">1</div>
  <div class="a" style="left:35px;top:1247px;width:33px;height:33px;border:2.5px solid #777;border-radius:6px;background:#fff"></div>
  <div class="a" style="left:82px;top:1241px;font-size:30.5px;line-height:48px;color:#555;white-space:nowrap">目盛りの線</div>
 </div>
 <div class="mline" style="left:0;top:1584px;width:671px"></div>
 <div class="btn" style="left:340px;top:1607px;width:130px;height:70px;background:#4fa874;color:#fff;line-height:72px">適用</div>
 <div class="btn" style="left:483px;top:1608px;width:159px;height:68px;border:2.5px solid #ccc;color:#444;line-height:66px;font-size:32px">閉じる</div>
</div></div>

<!-- arrows -->
<svg class="a" style="left:0;top:0" width="1300" height="1100" viewBox="0 0 1300 1100">
 <g fill="#e6436c">
  <path d="M420 160.5 C470 158 540 152 580 148 C600 146 612 143 616 142 L607.5 113 L711.5 165 L607.5 216.5 L616 188.5 C600 184 560 178 535 176 C490 172 450 170 420 169.5 Q413.5 169 413.5 165 Q413.5 161 420 160.5 Z"/>
  <path d="M316 435 C380 400 440 366 484 336 L464 306 L580 303.7 L512 398 L507.5 369 C460 376 400 400 322 445 Q314 447 313 441 Q312 437 316 435 Z"/>
  <path d="M265 943.5 C320 941 400 933 440 929 C452 927 459 926 462 924.7 L453 895.4 L558 948 L453 1000 L462 972 C450 968 420 963 400 961 C360 957 310 954 265 952.7 Q259.5 952.5 259.5 948 Q259.5 943.7 265 943.5 Z"/>
 </g>
</svg>
</body></html>
